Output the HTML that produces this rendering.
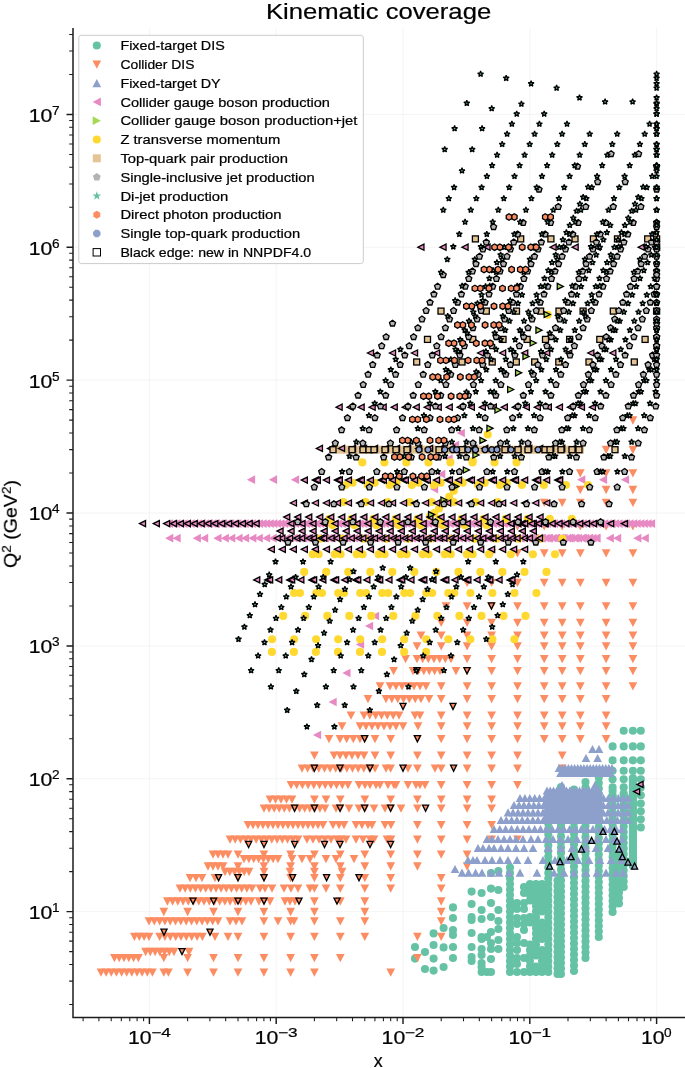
<!DOCTYPE html>
<html><head><meta charset="utf-8"><title>Kinematic coverage</title>
<style>html,body{margin:0;padding:0;background:#fff}svg{display:block;font-family:"Liberation Sans",sans-serif}text{stroke:#000;stroke-width:.22px}</style></head><body>
<svg width="685" height="1068" viewBox="0 0 685 1068">
<rect width="685" height="1068" fill="#fff"/>
<defs><g id="c"><circle r="4.05"/></g><g id="v"><polygon points="-4.35,-3.75 4.35,-3.75 0,4.55"/></g><g id="u"><polygon points="-4.35,4.1 4.35,4.1 0,-4.1"/></g><g id="l"><polygon points="4.1,-4.35 4.1,4.35 -4.1,0"/></g><g id="r"><polygon points="-4.1,-4.35 -4.1,4.35 4.1,0"/></g><g id="s"><rect x="-4" y="-4" width="8" height="8"/></g><g id="p"><polygon points="0.00,-4.10 3.90,-1.27 2.41,3.32 -2.41,3.32 -3.90,-1.27"/></g><g id="h"><polygon points="0.00,-4.00 3.46,-2.00 3.46,2.00 0.00,4.00 -3.46,2.00 -3.46,-2.00"/></g><g id="o"><polygon points="1.53,-3.70 3.70,-1.53 3.70,1.53 1.53,3.70 -1.53,3.70 -3.70,1.53 -3.70,-1.53 -1.53,-3.70"/></g><g id="t"><polygon points="0.00,-2.90 0.68,-0.93 2.76,-0.90 1.09,0.36 1.70,2.35 0.00,1.15 -1.70,2.35 -1.09,0.36 -2.76,-0.90 -0.68,-0.93"/></g><g id="ce"><circle r="3.3" stroke="#000" stroke-width="1.3" stroke-linejoin="miter"/></g><g id="ve"><polygon points="-3.05,-3.05 3.05,-3.05 0,3.05" stroke="#000" stroke-width="1.3" stroke-linejoin="miter"/></g><g id="ue"><polygon points="-3.05,3.05 3.05,3.05 0,-3.05" stroke="#000" stroke-width="1.3" stroke-linejoin="miter"/></g><g id="le"><polygon points="3.05,-3.05 3.05,3.05 -3.05,0" stroke="#000" stroke-width="1.3" stroke-linejoin="miter"/></g><g id="re"><polygon points="-3.05,-3.05 -3.05,3.05 3.05,0" stroke="#000" stroke-width="1.3" stroke-linejoin="miter"/></g><g id="se"><rect x="-3" y="-3" width="6" height="6" stroke="#000" stroke-width="1.3" stroke-linejoin="miter"/></g><g id="pe"><polygon points="0.00,-3.20 3.04,-0.99 1.88,2.59 -1.88,2.59 -3.04,-0.99" stroke="#000" stroke-width="1.3" stroke-linejoin="miter"/></g><g id="he"><polygon points="0.00,-3.20 2.77,-1.60 2.77,1.60 0.00,3.20 -2.77,1.60 -2.77,-1.60" stroke="#000" stroke-width="1.3" stroke-linejoin="miter"/></g><g id="oe"><polygon points="1.19,-2.86 2.86,-1.19 2.86,1.19 1.19,2.86 -1.19,2.86 -2.86,1.19 -2.86,-1.19 -1.19,-2.86" stroke="#000" stroke-width="1.3" stroke-linejoin="miter"/></g><g id="te"><polygon points="0.00,-3.05 0.69,-0.95 2.90,-0.94 1.11,0.36 1.79,2.47 0.00,1.17 -1.79,2.47 -1.11,0.36 -2.90,-0.94 -0.69,-0.95" stroke="#000" stroke-width="1.3" stroke-linejoin="bevel"/></g></defs>
<path d="M149.4 28V1017.5M276.2 28V1017.5M403.0 28V1017.5M529.8 28V1017.5M656.6 28V1017.5M73 911.6H685M73 778.7H685M73 645.9H685M73 513.0H685M73 380.1H685M73 247.2H685M73 114.4H685" stroke="#f1f1f1" stroke-width="0.8" fill="none"/>
<g fill="#66c2a5"><use href="#c" x="415.0" y="947.0"/><use href="#c" x="415.0" y="958.6"/><use href="#c" x="425.0" y="952.0"/><use href="#c" x="425.0" y="969.0"/><use href="#c" x="433.6" y="933.4"/><use href="#c" x="433.6" y="945.0"/><use href="#c" x="433.6" y="958.6"/><use href="#c" x="433.6" y="970.6"/><use href="#c" x="443.6" y="928.0"/><use href="#c" x="443.6" y="947.4"/><use href="#c" x="443.6" y="967.0"/><use href="#c" x="453.0" y="907.4"/><use href="#c" x="453.0" y="918.0"/><use href="#c" x="453.0" y="930.0"/><use href="#c" x="453.0" y="935.0"/><use href="#c" x="453.0" y="947.0"/><use href="#c" x="453.0" y="958.0"/><use href="#c" x="471.6" y="891.6"/><use href="#c" x="471.6" y="904.0"/><use href="#c" x="471.6" y="917.0"/><use href="#c" x="471.6" y="920.0"/><use href="#c" x="471.6" y="933.0"/><use href="#c" x="471.6" y="947.0"/><use href="#c" x="471.6" y="957.0"/><use href="#c" x="471.6" y="961.0"/><use href="#c" x="481.6" y="893.0"/><use href="#c" x="481.6" y="910.0"/><use href="#c" x="481.6" y="919.0"/><use href="#c" x="481.6" y="937.0"/><use href="#c" x="481.6" y="939.0"/><use href="#c" x="481.6" y="949.0"/><use href="#c" x="481.6" y="955.0"/><use href="#c" x="481.6" y="963.0"/><use href="#c" x="481.6" y="967.0"/><use href="#c" x="481.6" y="972.0"/><use href="#c" x="487.0" y="937.0"/><use href="#c" x="487.0" y="972.0"/><use href="#c" x="491.0" y="873.0"/><use href="#c" x="491.0" y="888.6"/><use href="#c" x="491.0" y="903.0"/><use href="#c" x="491.0" y="917.0"/><use href="#c" x="491.0" y="932.0"/><use href="#c" x="491.0" y="943.0"/><use href="#c" x="491.0" y="949.0"/><use href="#c" x="491.0" y="959.0"/><use href="#c" x="491.0" y="972.0"/><use href="#c" x="498.4" y="871.0"/><use href="#c" x="498.4" y="890.0"/><use href="#c" x="498.4" y="910.0"/><use href="#c" x="498.4" y="921.0"/><use href="#c" x="498.4" y="929.0"/><use href="#c" x="498.4" y="940.0"/><use href="#c" x="498.4" y="949.0"/><use href="#c" x="517.0" y="903.0"/><use href="#c" x="517.0" y="909.0"/><use href="#c" x="517.0" y="918.0"/><use href="#c" x="517.0" y="924.0"/><use href="#c" x="517.0" y="937.0"/><use href="#c" x="517.0" y="943.0"/><use href="#c" x="517.0" y="950.0"/><use href="#c" x="517.0" y="958.0"/><use href="#c" x="517.0" y="964.0"/><use href="#c" x="517.0" y="972.0"/><use href="#c" x="524.0" y="887.0"/><use href="#c" x="524.0" y="893.0"/><use href="#c" x="524.0" y="903.0"/><use href="#c" x="524.0" y="909.0"/><use href="#c" x="524.0" y="918.0"/><use href="#c" x="524.0" y="924.0"/><use href="#c" x="524.0" y="930.0"/><use href="#c" x="524.0" y="943.0"/><use href="#c" x="524.0" y="958.0"/><use href="#c" x="524.0" y="972.0"/><use href="#c" x="510.0" y="972.0"/><use href="#c" x="510.0" y="966.5"/><use href="#c" x="510.0" y="961.0"/><use href="#c" x="510.0" y="955.5"/><use href="#c" x="510.0" y="950.0"/><use href="#c" x="510.0" y="944.5"/><use href="#c" x="510.0" y="939.0"/><use href="#c" x="510.0" y="933.5"/><use href="#c" x="510.0" y="928.0"/><use href="#c" x="510.0" y="922.5"/><use href="#c" x="510.0" y="917.0"/><use href="#c" x="510.0" y="911.5"/><use href="#c" x="510.0" y="906.0"/><use href="#c" x="510.0" y="900.5"/><use href="#c" x="510.0" y="895.0"/><use href="#c" x="510.0" y="889.5"/><use href="#c" x="510.0" y="884.0"/><use href="#c" x="510.0" y="878.5"/><use href="#c" x="510.0" y="873.0"/><use href="#c" x="510.0" y="867.5"/><use href="#c" x="530.0" y="972.0"/><use href="#c" x="530.0" y="966.5"/><use href="#c" x="530.0" y="961.0"/><use href="#c" x="530.0" y="955.5"/><use href="#c" x="530.0" y="950.0"/><use href="#c" x="530.0" y="944.5"/><use href="#c" x="530.0" y="922.5"/><use href="#c" x="530.0" y="917.0"/><use href="#c" x="530.0" y="900.5"/><use href="#c" x="530.0" y="895.0"/><use href="#c" x="530.0" y="889.5"/><use href="#c" x="530.0" y="884.0"/><use href="#c" x="536.0" y="972.0"/><use href="#c" x="536.0" y="966.5"/><use href="#c" x="536.0" y="955.5"/><use href="#c" x="536.0" y="950.0"/><use href="#c" x="536.0" y="944.5"/><use href="#c" x="536.0" y="939.0"/><use href="#c" x="536.0" y="933.5"/><use href="#c" x="536.0" y="928.0"/><use href="#c" x="536.0" y="922.5"/><use href="#c" x="536.0" y="917.0"/><use href="#c" x="536.0" y="911.5"/><use href="#c" x="536.0" y="906.0"/><use href="#c" x="536.0" y="900.5"/><use href="#c" x="536.0" y="895.0"/><use href="#c" x="536.0" y="889.5"/><use href="#c" x="536.0" y="884.0"/><use href="#c" x="542.0" y="972.0"/><use href="#c" x="542.0" y="966.5"/><use href="#c" x="542.0" y="961.0"/><use href="#c" x="542.0" y="955.5"/><use href="#c" x="542.0" y="950.0"/><use href="#c" x="542.0" y="939.0"/><use href="#c" x="542.0" y="933.5"/><use href="#c" x="542.0" y="928.0"/><use href="#c" x="542.0" y="922.5"/><use href="#c" x="542.0" y="911.5"/><use href="#c" x="542.0" y="906.0"/><use href="#c" x="542.0" y="900.5"/><use href="#c" x="542.0" y="895.0"/><use href="#c" x="542.0" y="889.5"/><use href="#c" x="542.0" y="884.0"/><use href="#c" x="548.3" y="972.0"/><use href="#c" x="548.3" y="966.5"/><use href="#c" x="548.3" y="961.0"/><use href="#c" x="548.3" y="955.5"/><use href="#c" x="548.3" y="950.0"/><use href="#c" x="548.3" y="944.5"/><use href="#c" x="548.3" y="939.0"/><use href="#c" x="548.3" y="933.5"/><use href="#c" x="548.3" y="928.0"/><use href="#c" x="548.3" y="922.5"/><use href="#c" x="548.3" y="917.0"/><use href="#c" x="548.3" y="911.5"/><use href="#c" x="548.3" y="906.0"/><use href="#c" x="548.3" y="900.5"/><use href="#c" x="548.3" y="895.0"/><use href="#c" x="548.3" y="889.5"/><use href="#c" x="548.3" y="884.0"/><use href="#c" x="548.3" y="878.5"/><use href="#c" x="548.3" y="873.0"/><use href="#c" x="548.3" y="867.5"/><use href="#c" x="548.3" y="862.0"/><use href="#c" x="548.3" y="856.5"/><use href="#c" x="548.3" y="851.0"/><use href="#c" x="548.3" y="845.5"/><use href="#c" x="548.3" y="840.0"/><use href="#c" x="548.3" y="834.5"/><use href="#c" x="548.3" y="829.0"/><use href="#c" x="548.3" y="823.5"/><use href="#c" x="548.3" y="818.0"/><use href="#c" x="548.3" y="812.5"/><use href="#c" x="548.3" y="807.0"/><use href="#c" x="557.5" y="974.0"/><use href="#c" x="557.5" y="968.5"/><use href="#c" x="557.5" y="963.0"/><use href="#c" x="557.5" y="957.5"/><use href="#c" x="557.5" y="952.0"/><use href="#c" x="557.5" y="946.5"/><use href="#c" x="557.5" y="941.0"/><use href="#c" x="557.5" y="935.5"/><use href="#c" x="557.5" y="930.0"/><use href="#c" x="557.5" y="924.5"/><use href="#c" x="557.5" y="919.0"/><use href="#c" x="557.5" y="913.5"/><use href="#c" x="557.5" y="908.0"/><use href="#c" x="557.5" y="902.5"/><use href="#c" x="557.5" y="897.0"/><use href="#c" x="557.5" y="891.5"/><use href="#c" x="557.5" y="886.0"/><use href="#c" x="557.5" y="880.5"/><use href="#c" x="561.0" y="974.0"/><use href="#c" x="561.0" y="968.5"/><use href="#c" x="561.0" y="963.0"/><use href="#c" x="561.0" y="957.5"/><use href="#c" x="561.0" y="952.0"/><use href="#c" x="561.0" y="946.5"/><use href="#c" x="561.0" y="941.0"/><use href="#c" x="561.0" y="935.5"/><use href="#c" x="561.0" y="930.0"/><use href="#c" x="561.0" y="924.5"/><use href="#c" x="561.0" y="919.0"/><use href="#c" x="561.0" y="913.5"/><use href="#c" x="561.0" y="908.0"/><use href="#c" x="561.0" y="902.5"/><use href="#c" x="561.0" y="897.0"/><use href="#c" x="561.0" y="891.5"/><use href="#c" x="561.0" y="886.0"/><use href="#c" x="561.0" y="880.5"/><use href="#c" x="561.0" y="875.0"/><use href="#c" x="561.0" y="869.5"/><use href="#c" x="561.0" y="864.0"/><use href="#c" x="561.0" y="858.5"/><use href="#c" x="561.0" y="853.0"/><use href="#c" x="561.0" y="847.5"/><use href="#c" x="561.0" y="842.0"/><use href="#c" x="561.0" y="836.5"/><use href="#c" x="561.0" y="831.0"/><use href="#c" x="561.0" y="825.5"/><use href="#c" x="561.0" y="820.0"/><use href="#c" x="561.0" y="814.5"/><use href="#c" x="561.0" y="809.0"/><use href="#c" x="561.0" y="803.5"/><use href="#c" x="561.0" y="798.0"/><use href="#c" x="561.0" y="792.5"/><use href="#c" x="561.0" y="787.0"/><use href="#c" x="574.0" y="971.0"/><use href="#c" x="574.0" y="965.5"/><use href="#c" x="574.0" y="960.0"/><use href="#c" x="574.0" y="954.5"/><use href="#c" x="574.0" y="949.0"/><use href="#c" x="574.0" y="943.5"/><use href="#c" x="574.0" y="938.0"/><use href="#c" x="574.0" y="932.5"/><use href="#c" x="574.0" y="927.0"/><use href="#c" x="574.0" y="921.5"/><use href="#c" x="574.0" y="916.0"/><use href="#c" x="574.0" y="910.5"/><use href="#c" x="574.0" y="905.0"/><use href="#c" x="574.0" y="899.5"/><use href="#c" x="574.0" y="894.0"/><use href="#c" x="574.0" y="888.5"/><use href="#c" x="574.0" y="883.0"/><use href="#c" x="574.0" y="877.5"/><use href="#c" x="574.0" y="872.0"/><use href="#c" x="574.0" y="866.5"/><use href="#c" x="574.0" y="861.0"/><use href="#c" x="574.0" y="855.5"/><use href="#c" x="574.0" y="850.0"/><use href="#c" x="574.0" y="844.5"/><use href="#c" x="574.0" y="839.0"/><use href="#c" x="574.0" y="833.5"/><use href="#c" x="574.0" y="828.0"/><use href="#c" x="574.0" y="822.5"/><use href="#c" x="574.0" y="817.0"/><use href="#c" x="574.0" y="811.5"/><use href="#c" x="574.0" y="806.0"/><use href="#c" x="574.0" y="800.5"/><use href="#c" x="574.0" y="795.0"/><use href="#c" x="574.0" y="789.5"/><use href="#c" x="585.5" y="958.0"/><use href="#c" x="585.5" y="952.5"/><use href="#c" x="585.5" y="947.0"/><use href="#c" x="585.5" y="941.5"/><use href="#c" x="585.5" y="936.0"/><use href="#c" x="585.5" y="930.5"/><use href="#c" x="585.5" y="925.0"/><use href="#c" x="585.5" y="919.5"/><use href="#c" x="585.5" y="914.0"/><use href="#c" x="585.5" y="908.5"/><use href="#c" x="585.5" y="903.0"/><use href="#c" x="585.5" y="897.5"/><use href="#c" x="585.5" y="892.0"/><use href="#c" x="585.5" y="886.5"/><use href="#c" x="585.5" y="881.0"/><use href="#c" x="585.5" y="875.5"/><use href="#c" x="585.5" y="870.0"/><use href="#c" x="585.5" y="864.5"/><use href="#c" x="585.5" y="859.0"/><use href="#c" x="585.5" y="853.5"/><use href="#c" x="585.5" y="848.0"/><use href="#c" x="585.5" y="842.5"/><use href="#c" x="585.5" y="837.0"/><use href="#c" x="585.5" y="831.5"/><use href="#c" x="585.5" y="826.0"/><use href="#c" x="585.5" y="820.5"/><use href="#c" x="585.5" y="815.0"/><use href="#c" x="585.5" y="809.5"/><use href="#c" x="585.5" y="804.0"/><use href="#c" x="585.5" y="798.5"/><use href="#c" x="585.5" y="793.0"/><use href="#c" x="585.5" y="787.5"/><use href="#c" x="585.5" y="782.0"/><use href="#c" x="598.8" y="937.0"/><use href="#c" x="598.8" y="931.5"/><use href="#c" x="598.8" y="926.0"/><use href="#c" x="598.8" y="920.5"/><use href="#c" x="598.8" y="915.0"/><use href="#c" x="598.8" y="909.5"/><use href="#c" x="598.8" y="904.0"/><use href="#c" x="598.8" y="898.5"/><use href="#c" x="598.8" y="893.0"/><use href="#c" x="598.8" y="887.5"/><use href="#c" x="598.8" y="882.0"/><use href="#c" x="598.8" y="876.5"/><use href="#c" x="598.8" y="871.0"/><use href="#c" x="598.8" y="865.5"/><use href="#c" x="598.8" y="860.0"/><use href="#c" x="598.8" y="854.5"/><use href="#c" x="598.8" y="849.0"/><use href="#c" x="598.8" y="843.5"/><use href="#c" x="598.8" y="838.0"/><use href="#c" x="598.8" y="832.5"/><use href="#c" x="598.8" y="827.0"/><use href="#c" x="598.8" y="821.5"/><use href="#c" x="598.8" y="816.0"/><use href="#c" x="598.8" y="810.5"/><use href="#c" x="598.8" y="805.0"/><use href="#c" x="598.8" y="799.5"/><use href="#c" x="598.8" y="794.0"/><use href="#c" x="598.8" y="788.5"/><use href="#c" x="598.8" y="783.0"/><use href="#c" x="598.8" y="777.5"/><use href="#c" x="598.8" y="772.0"/><use href="#c" x="612.6" y="912.0"/><use href="#c" x="612.6" y="906.5"/><use href="#c" x="612.6" y="901.0"/><use href="#c" x="612.6" y="895.5"/><use href="#c" x="612.6" y="890.0"/><use href="#c" x="612.6" y="884.5"/><use href="#c" x="612.6" y="879.0"/><use href="#c" x="612.6" y="873.5"/><use href="#c" x="612.6" y="868.0"/><use href="#c" x="612.6" y="862.5"/><use href="#c" x="612.6" y="857.0"/><use href="#c" x="612.6" y="851.5"/><use href="#c" x="612.6" y="846.0"/><use href="#c" x="612.6" y="840.5"/><use href="#c" x="612.6" y="835.0"/><use href="#c" x="612.6" y="829.5"/><use href="#c" x="612.6" y="824.0"/><use href="#c" x="612.6" y="818.5"/><use href="#c" x="612.6" y="813.0"/><use href="#c" x="612.6" y="807.5"/><use href="#c" x="612.6" y="802.0"/><use href="#c" x="612.6" y="796.5"/><use href="#c" x="612.6" y="791.0"/><use href="#c" x="619.0" y="903.5"/><use href="#c" x="619.0" y="898.0"/><use href="#c" x="619.0" y="892.5"/><use href="#c" x="619.0" y="887.0"/><use href="#c" x="619.0" y="881.5"/><use href="#c" x="619.0" y="876.0"/><use href="#c" x="619.0" y="870.5"/><use href="#c" x="619.0" y="865.0"/><use href="#c" x="619.0" y="859.5"/><use href="#c" x="619.0" y="854.0"/><use href="#c" x="623.7" y="887.0"/><use href="#c" x="623.7" y="881.5"/><use href="#c" x="623.7" y="876.0"/><use href="#c" x="623.7" y="870.5"/><use href="#c" x="623.7" y="865.0"/><use href="#c" x="623.7" y="859.5"/><use href="#c" x="623.7" y="854.0"/><use href="#c" x="623.7" y="848.5"/><use href="#c" x="623.7" y="843.0"/><use href="#c" x="623.7" y="837.5"/><use href="#c" x="623.7" y="832.0"/><use href="#c" x="623.7" y="826.5"/><use href="#c" x="623.7" y="821.0"/><use href="#c" x="623.7" y="815.5"/><use href="#c" x="623.7" y="810.0"/><use href="#c" x="623.7" y="804.5"/><use href="#c" x="623.7" y="799.0"/><use href="#c" x="623.7" y="793.5"/><use href="#c" x="632.9" y="866.0"/><use href="#c" x="632.9" y="863.8"/><use href="#c" x="632.9" y="861.6"/><use href="#c" x="632.9" y="859.4"/><use href="#c" x="632.9" y="857.2"/><use href="#c" x="632.9" y="855.0"/><use href="#c" x="632.9" y="852.8"/><use href="#c" x="632.9" y="850.6"/><use href="#c" x="632.9" y="848.4"/><use href="#c" x="632.9" y="846.2"/><use href="#c" x="632.9" y="844.0"/><use href="#c" x="632.9" y="841.8"/><use href="#c" x="632.9" y="839.6"/><use href="#c" x="632.9" y="837.4"/><use href="#c" x="632.9" y="835.2"/><use href="#c" x="632.9" y="833.0"/><use href="#c" x="632.9" y="830.8"/><use href="#c" x="632.9" y="828.6"/><use href="#c" x="632.9" y="826.4"/><use href="#c" x="632.9" y="824.2"/><use href="#c" x="632.9" y="822.0"/><use href="#c" x="632.9" y="819.8"/><use href="#c" x="632.9" y="817.6"/><use href="#c" x="632.9" y="815.4"/><use href="#c" x="632.9" y="813.2"/><use href="#c" x="632.9" y="811.0"/><use href="#c" x="632.9" y="808.8"/><use href="#c" x="632.9" y="806.6"/><use href="#c" x="632.9" y="804.4"/><use href="#c" x="632.9" y="802.2"/><use href="#c" x="632.9" y="800.0"/><use href="#c" x="632.9" y="797.8"/><use href="#c" x="632.9" y="795.6"/><use href="#c" x="632.9" y="793.4"/><use href="#c" x="632.9" y="791.2"/><use href="#c" x="632.9" y="789.0"/><use href="#c" x="632.9" y="786.8"/><use href="#c" x="632.9" y="784.6"/><use href="#c" x="632.9" y="782.4"/><use href="#c" x="632.9" y="780.2"/><use href="#c" x="632.9" y="778.0"/><use href="#c" x="612.6" y="746.4"/><use href="#c" x="612.6" y="760.4"/><use href="#c" x="612.6" y="770.7"/><use href="#c" x="612.6" y="779.3"/><use href="#c" x="612.6" y="787.4"/><use href="#c" x="612.6" y="795.3"/><use href="#c" x="623.7" y="730.7"/><use href="#c" x="623.7" y="746.4"/><use href="#c" x="623.7" y="760.4"/><use href="#c" x="623.7" y="770.7"/><use href="#c" x="623.7" y="779.3"/><use href="#c" x="623.7" y="787.4"/><use href="#c" x="623.7" y="795.3"/><use href="#c" x="632.9" y="730.7"/><use href="#c" x="632.9" y="746.4"/><use href="#c" x="632.9" y="760.4"/><use href="#c" x="632.9" y="770.7"/><use href="#c" x="632.9" y="779.3"/><use href="#c" x="640.8" y="730.7"/><use href="#c" x="640.8" y="746.4"/><use href="#c" x="640.8" y="760.4"/><use href="#c" x="640.8" y="770.7"/><use href="#c" x="640.8" y="779.3"/><use href="#c" x="640.8" y="787.4"/><use href="#c" x="640.8" y="795.3"/><use href="#c" x="640.8" y="803.6"/><use href="#c" x="640.8" y="811.2"/><use href="#c" x="640.8" y="819.3"/><use href="#c" x="640.8" y="827.4"/></g>
<g fill="#fc8d62"><use href="#v" x="101.0" y="972.2"/><use href="#v" x="106.1" y="972.2"/><use href="#v" x="111.3" y="972.2"/><use href="#v" x="116.4" y="972.2"/><use href="#v" x="121.6" y="972.2"/><use href="#v" x="126.7" y="972.2"/><use href="#v" x="131.8" y="972.2"/><use href="#v" x="137.0" y="972.2"/><use href="#v" x="142.1" y="972.2"/><use href="#v" x="147.3" y="972.2"/><use href="#v" x="152.4" y="972.2"/><use href="#v" x="163.8" y="972.2"/><use href="#v" x="168.4" y="972.2"/><use href="#v" x="187.6" y="972.2"/><use href="#v" x="213.5" y="972.2"/><use href="#v" x="238.0" y="972.2"/><use href="#v" x="263.9" y="972.2"/><use href="#v" x="290.6" y="972.2"/><use href="#v" x="314.4" y="972.2"/><use href="#v" x="390.7" y="972.2"/><use href="#v" x="114.4" y="957.7"/><use href="#v" x="119.2" y="957.7"/><use href="#v" x="124.0" y="957.7"/><use href="#v" x="128.8" y="957.7"/><use href="#v" x="133.6" y="957.7"/><use href="#v" x="138.4" y="957.7"/><use href="#v" x="163.8" y="957.7"/><use href="#v" x="187.6" y="957.7"/><use href="#v" x="213.5" y="957.7"/><use href="#v" x="238.0" y="957.7"/><use href="#v" x="263.9" y="957.7"/><use href="#v" x="290.6" y="957.7"/><use href="#v" x="314.4" y="957.7"/><use href="#v" x="340.3" y="957.7"/><use href="#v" x="417.4" y="957.7"/><use href="#v" x="145.6" y="951.6"/><use href="#v" x="150.3" y="951.6"/><use href="#v" x="155.1" y="951.6"/><use href="#v" x="159.8" y="951.6"/><use href="#v" x="164.5" y="951.6"/><use href="#v" x="169.3" y="951.6"/><use href="#v" x="174.0" y="951.6"/><use href="#v" x="189.0" y="951.6"/><use href="#v" x="134.4" y="936.5"/><use href="#v" x="139.3" y="936.5"/><use href="#v" x="144.1" y="936.5"/><use href="#v" x="149.0" y="936.5"/><use href="#v" x="159.6" y="936.5"/><use href="#v" x="164.9" y="936.5"/><use href="#v" x="170.3" y="936.5"/><use href="#v" x="175.7" y="936.5"/><use href="#v" x="181.0" y="936.5"/><use href="#v" x="186.3" y="936.5"/><use href="#v" x="191.7" y="936.5"/><use href="#v" x="197.1" y="936.5"/><use href="#v" x="202.4" y="936.5"/><use href="#v" x="215.0" y="936.5"/><use href="#v" x="228.0" y="936.5"/><use href="#v" x="238.0" y="936.5"/><use href="#v" x="263.9" y="936.5"/><use href="#v" x="290.6" y="936.5"/><use href="#v" x="314.4" y="936.5"/><use href="#v" x="340.3" y="936.5"/><use href="#v" x="364.8" y="936.5"/><use href="#v" x="417.4" y="936.5"/><use href="#v" x="441.2" y="936.5"/><use href="#v" x="149.0" y="921.0"/><use href="#v" x="154.3" y="921.0"/><use href="#v" x="159.6" y="921.0"/><use href="#v" x="164.9" y="921.0"/><use href="#v" x="170.2" y="921.0"/><use href="#v" x="175.5" y="921.0"/><use href="#v" x="180.8" y="921.0"/><use href="#v" x="186.2" y="921.0"/><use href="#v" x="191.5" y="921.0"/><use href="#v" x="196.8" y="921.0"/><use href="#v" x="202.1" y="921.0"/><use href="#v" x="207.4" y="921.0"/><use href="#v" x="212.7" y="921.0"/><use href="#v" x="218.0" y="921.0"/><use href="#v" x="230.0" y="921.0"/><use href="#v" x="236.0" y="921.0"/><use href="#v" x="242.0" y="921.0"/><use href="#v" x="263.9" y="921.0"/><use href="#v" x="278.0" y="921.0"/><use href="#v" x="290.6" y="921.0"/><use href="#v" x="294.0" y="921.0"/><use href="#v" x="314.4" y="921.0"/><use href="#v" x="340.3" y="921.0"/><use href="#v" x="364.8" y="921.0"/><use href="#v" x="441.2" y="921.0"/><use href="#v" x="163.8" y="911.6"/><use href="#v" x="187.6" y="911.6"/><use href="#v" x="213.5" y="911.6"/><use href="#v" x="238.0" y="911.6"/><use href="#v" x="263.9" y="911.6"/><use href="#v" x="290.6" y="911.6"/><use href="#v" x="314.4" y="911.6"/><use href="#v" x="364.8" y="911.6"/><use href="#v" x="441.2" y="911.6"/><use href="#v" x="167.4" y="901.1"/><use href="#v" x="172.6" y="901.1"/><use href="#v" x="177.8" y="901.1"/><use href="#v" x="183.1" y="901.1"/><use href="#v" x="188.3" y="901.1"/><use href="#v" x="193.5" y="901.1"/><use href="#v" x="198.8" y="901.1"/><use href="#v" x="204.0" y="901.1"/><use href="#v" x="209.2" y="901.1"/><use href="#v" x="214.4" y="901.1"/><use href="#v" x="219.7" y="901.1"/><use href="#v" x="224.9" y="901.1"/><use href="#v" x="230.1" y="901.1"/><use href="#v" x="235.3" y="901.1"/><use href="#v" x="240.6" y="901.1"/><use href="#v" x="245.8" y="901.1"/><use href="#v" x="251.0" y="901.1"/><use href="#v" x="259.0" y="901.1"/><use href="#v" x="264.0" y="901.1"/><use href="#v" x="270.0" y="901.1"/><use href="#v" x="285.0" y="901.1"/><use href="#v" x="290.0" y="901.1"/><use href="#v" x="295.0" y="901.1"/><use href="#v" x="314.4" y="901.1"/><use href="#v" x="340.3" y="901.1"/><use href="#v" x="364.8" y="901.1"/><use href="#v" x="441.2" y="901.1"/><use href="#v" x="180.0" y="888.2"/><use href="#v" x="185.1" y="888.2"/><use href="#v" x="190.3" y="888.2"/><use href="#v" x="195.4" y="888.2"/><use href="#v" x="200.6" y="888.2"/><use href="#v" x="205.7" y="888.2"/><use href="#v" x="210.9" y="888.2"/><use href="#v" x="216.0" y="888.2"/><use href="#v" x="221.1" y="888.2"/><use href="#v" x="226.3" y="888.2"/><use href="#v" x="231.4" y="888.2"/><use href="#v" x="236.6" y="888.2"/><use href="#v" x="241.7" y="888.2"/><use href="#v" x="246.9" y="888.2"/><use href="#v" x="252.0" y="888.2"/><use href="#v" x="260.0" y="888.2"/><use href="#v" x="265.0" y="888.2"/><use href="#v" x="272.0" y="888.2"/><use href="#v" x="284.0" y="888.2"/><use href="#v" x="291.0" y="888.2"/><use href="#v" x="298.0" y="888.2"/><use href="#v" x="310.0" y="888.2"/><use href="#v" x="314.4" y="888.2"/><use href="#v" x="326.0" y="888.2"/><use href="#v" x="340.3" y="888.2"/><use href="#v" x="364.8" y="888.2"/><use href="#v" x="390.7" y="888.2"/><use href="#v" x="441.2" y="888.2"/><use href="#v" x="190.0" y="877.7"/><use href="#v" x="196.0" y="877.7"/><use href="#v" x="202.0" y="877.7"/><use href="#v" x="215.0" y="877.7"/><use href="#v" x="238.0" y="877.7"/><use href="#v" x="263.9" y="877.7"/><use href="#v" x="290.6" y="877.7"/><use href="#v" x="314.4" y="877.7"/><use href="#v" x="340.3" y="877.7"/><use href="#v" x="364.8" y="877.7"/><use href="#v" x="390.7" y="877.7"/><use href="#v" x="441.2" y="877.7"/><use href="#v" x="225.0" y="871.6"/><use href="#v" x="229.8" y="871.6"/><use href="#v" x="234.6" y="871.6"/><use href="#v" x="239.4" y="871.6"/><use href="#v" x="244.2" y="871.6"/><use href="#v" x="249.0" y="871.6"/><use href="#v" x="264.0" y="871.6"/><use href="#v" x="290.0" y="871.6"/><use href="#v" x="314.4" y="871.6"/><use href="#v" x="342.0" y="871.6"/><use href="#v" x="208.0" y="866.1"/><use href="#v" x="213.0" y="866.1"/><use href="#v" x="218.0" y="866.1"/><use href="#v" x="223.0" y="866.1"/><use href="#v" x="238.0" y="866.1"/><use href="#v" x="263.9" y="866.1"/><use href="#v" x="290.6" y="866.1"/><use href="#v" x="314.4" y="866.1"/><use href="#v" x="340.3" y="866.1"/><use href="#v" x="364.8" y="866.1"/><use href="#v" x="390.7" y="866.1"/><use href="#v" x="417.4" y="866.1"/><use href="#v" x="467.1" y="866.1"/><use href="#v" x="244.0" y="858.7"/><use href="#v" x="248.9" y="858.7"/><use href="#v" x="253.7" y="858.7"/><use href="#v" x="258.6" y="858.7"/><use href="#v" x="263.4" y="858.7"/><use href="#v" x="268.3" y="858.7"/><use href="#v" x="273.1" y="858.7"/><use href="#v" x="278.0" y="858.7"/><use href="#v" x="292.0" y="858.7"/><use href="#v" x="302.0" y="858.7"/><use href="#v" x="310.0" y="858.7"/><use href="#v" x="326.0" y="858.7"/><use href="#v" x="336.0" y="858.7"/><use href="#v" x="354.0" y="858.7"/><use href="#v" x="213.0" y="854.3"/><use href="#v" x="218.0" y="854.3"/><use href="#v" x="223.0" y="854.3"/><use href="#v" x="228.0" y="854.3"/><use href="#v" x="238.0" y="854.3"/><use href="#v" x="263.9" y="854.3"/><use href="#v" x="290.6" y="854.3"/><use href="#v" x="314.4" y="854.3"/><use href="#v" x="340.3" y="854.3"/><use href="#v" x="364.8" y="854.3"/><use href="#v" x="390.7" y="854.3"/><use href="#v" x="417.4" y="854.3"/><use href="#v" x="441.2" y="854.3"/><use href="#v" x="467.1" y="854.3"/><use href="#v" x="230.0" y="839.3"/><use href="#v" x="235.2" y="839.3"/><use href="#v" x="240.5" y="839.3"/><use href="#v" x="245.7" y="839.3"/><use href="#v" x="250.9" y="839.3"/><use href="#v" x="256.2" y="839.3"/><use href="#v" x="261.4" y="839.3"/><use href="#v" x="266.6" y="839.3"/><use href="#v" x="271.8" y="839.3"/><use href="#v" x="277.1" y="839.3"/><use href="#v" x="282.3" y="839.3"/><use href="#v" x="287.5" y="839.3"/><use href="#v" x="292.8" y="839.3"/><use href="#v" x="298.0" y="839.3"/><use href="#v" x="307.0" y="839.3"/><use href="#v" x="313.0" y="839.3"/><use href="#v" x="319.0" y="839.3"/><use href="#v" x="325.0" y="839.3"/><use href="#v" x="331.0" y="839.3"/><use href="#v" x="337.0" y="839.3"/><use href="#v" x="341.0" y="839.3"/><use href="#v" x="346.0" y="839.3"/><use href="#v" x="356.0" y="839.3"/><use href="#v" x="363.0" y="839.3"/><use href="#v" x="370.0" y="839.3"/><use href="#v" x="374.0" y="839.3"/><use href="#v" x="387.0" y="839.3"/><use href="#v" x="391.0" y="839.3"/><use href="#v" x="417.4" y="839.3"/><use href="#v" x="441.2" y="839.3"/><use href="#v" x="467.1" y="839.3"/><use href="#v" x="491.6" y="839.3"/><use href="#v" x="517.5" y="839.3"/><use href="#v" x="248.0" y="824.8"/><use href="#v" x="253.0" y="824.8"/><use href="#v" x="258.0" y="824.8"/><use href="#v" x="263.0" y="824.8"/><use href="#v" x="268.0" y="824.8"/><use href="#v" x="273.0" y="824.8"/><use href="#v" x="278.0" y="824.8"/><use href="#v" x="283.0" y="824.8"/><use href="#v" x="288.0" y="824.8"/><use href="#v" x="293.0" y="824.8"/><use href="#v" x="298.0" y="824.8"/><use href="#v" x="303.0" y="824.8"/><use href="#v" x="308.0" y="824.8"/><use href="#v" x="313.0" y="824.8"/><use href="#v" x="318.0" y="824.8"/><use href="#v" x="323.0" y="824.8"/><use href="#v" x="333.0" y="824.8"/><use href="#v" x="339.0" y="824.8"/><use href="#v" x="344.0" y="824.8"/><use href="#v" x="356.0" y="824.8"/><use href="#v" x="362.0" y="824.8"/><use href="#v" x="368.0" y="824.8"/><use href="#v" x="372.0" y="824.8"/><use href="#v" x="385.0" y="824.8"/><use href="#v" x="391.0" y="824.8"/><use href="#v" x="417.4" y="824.8"/><use href="#v" x="441.2" y="824.8"/><use href="#v" x="467.1" y="824.8"/><use href="#v" x="491.6" y="824.8"/><use href="#v" x="264.0" y="808.2"/><use href="#v" x="269.1" y="808.2"/><use href="#v" x="274.2" y="808.2"/><use href="#v" x="279.2" y="808.2"/><use href="#v" x="284.3" y="808.2"/><use href="#v" x="289.4" y="808.2"/><use href="#v" x="294.5" y="808.2"/><use href="#v" x="299.6" y="808.2"/><use href="#v" x="304.7" y="808.2"/><use href="#v" x="309.8" y="808.2"/><use href="#v" x="314.8" y="808.2"/><use href="#v" x="319.9" y="808.2"/><use href="#v" x="325.0" y="808.2"/><use href="#v" x="336.0" y="808.2"/><use href="#v" x="349.0" y="808.2"/><use href="#v" x="359.0" y="808.2"/><use href="#v" x="374.0" y="808.2"/><use href="#v" x="385.0" y="808.2"/><use href="#v" x="401.0" y="808.2"/><use href="#v" x="314.4" y="808.2"/><use href="#v" x="340.3" y="808.2"/><use href="#v" x="364.8" y="808.2"/><use href="#v" x="390.7" y="808.2"/><use href="#v" x="417.4" y="808.2"/><use href="#v" x="441.2" y="808.2"/><use href="#v" x="467.1" y="808.2"/><use href="#v" x="491.6" y="808.2"/><use href="#v" x="270.0" y="799.3"/><use href="#v" x="275.5" y="799.3"/><use href="#v" x="281.0" y="799.3"/><use href="#v" x="286.5" y="799.3"/><use href="#v" x="292.0" y="799.3"/><use href="#v" x="314.4" y="799.3"/><use href="#v" x="326.0" y="799.3"/><use href="#v" x="340.3" y="799.3"/><use href="#v" x="364.8" y="799.3"/><use href="#v" x="390.7" y="799.3"/><use href="#v" x="417.4" y="799.3"/><use href="#v" x="441.2" y="799.3"/><use href="#v" x="467.1" y="799.3"/><use href="#v" x="491.6" y="799.3"/><use href="#v" x="291.0" y="784.8"/><use href="#v" x="296.7" y="784.8"/><use href="#v" x="302.4" y="784.8"/><use href="#v" x="308.1" y="784.8"/><use href="#v" x="313.8" y="784.8"/><use href="#v" x="319.5" y="784.8"/><use href="#v" x="325.2" y="784.8"/><use href="#v" x="330.9" y="784.8"/><use href="#v" x="336.6" y="784.8"/><use href="#v" x="342.3" y="784.8"/><use href="#v" x="348.0" y="784.8"/><use href="#v" x="359.0" y="784.8"/><use href="#v" x="365.0" y="784.8"/><use href="#v" x="370.0" y="784.8"/><use href="#v" x="376.0" y="784.8"/><use href="#v" x="380.0" y="784.8"/><use href="#v" x="388.0" y="784.8"/><use href="#v" x="394.0" y="784.8"/><use href="#v" x="396.0" y="784.8"/><use href="#v" x="408.0" y="784.8"/><use href="#v" x="416.0" y="784.8"/><use href="#v" x="420.0" y="784.8"/><use href="#v" x="425.0" y="784.8"/><use href="#v" x="441.2" y="784.8"/><use href="#v" x="467.1" y="784.8"/><use href="#v" x="491.6" y="784.8"/><use href="#v" x="517.5" y="784.8"/><use href="#v" x="302.0" y="768.2"/><use href="#v" x="307.6" y="768.2"/><use href="#v" x="313.2" y="768.2"/><use href="#v" x="318.8" y="768.2"/><use href="#v" x="324.5" y="768.2"/><use href="#v" x="330.1" y="768.2"/><use href="#v" x="335.7" y="768.2"/><use href="#v" x="341.3" y="768.2"/><use href="#v" x="346.9" y="768.2"/><use href="#v" x="352.5" y="768.2"/><use href="#v" x="358.2" y="768.2"/><use href="#v" x="363.8" y="768.2"/><use href="#v" x="369.4" y="768.2"/><use href="#v" x="375.0" y="768.2"/><use href="#v" x="386.0" y="768.2"/><use href="#v" x="390.6" y="768.2"/><use href="#v" x="408.0" y="768.2"/><use href="#v" x="417.4" y="768.2"/><use href="#v" x="435.0" y="768.2"/><use href="#v" x="441.2" y="768.2"/><use href="#v" x="467.1" y="768.2"/><use href="#v" x="491.6" y="768.2"/><use href="#v" x="517.5" y="768.2"/><use href="#v" x="562.2" y="768.2"/><use href="#v" x="314.4" y="755.3"/><use href="#v" x="334.0" y="755.3"/><use href="#v" x="340.0" y="755.3"/><use href="#v" x="346.0" y="755.3"/><use href="#v" x="352.0" y="755.3"/><use href="#v" x="358.0" y="755.3"/><use href="#v" x="364.0" y="755.3"/><use href="#v" x="375.0" y="755.3"/><use href="#v" x="390.7" y="755.3"/><use href="#v" x="417.4" y="755.3"/><use href="#v" x="441.2" y="755.3"/><use href="#v" x="467.1" y="755.3"/><use href="#v" x="491.6" y="755.3"/><use href="#v" x="517.5" y="755.3"/><use href="#v" x="562.2" y="755.3"/><use href="#v" x="329.0" y="738.7"/><use href="#v" x="340.0" y="738.7"/><use href="#v" x="346.7" y="738.7"/><use href="#v" x="353.3" y="738.7"/><use href="#v" x="360.0" y="738.7"/><use href="#v" x="375.0" y="738.7"/><use href="#v" x="364.8" y="738.7"/><use href="#v" x="390.7" y="738.7"/><use href="#v" x="417.4" y="738.7"/><use href="#v" x="441.2" y="738.7"/><use href="#v" x="467.1" y="738.7"/><use href="#v" x="491.6" y="738.7"/><use href="#v" x="517.5" y="738.7"/><use href="#v" x="544.2" y="738.7"/><use href="#v" x="562.2" y="738.7"/><use href="#v" x="580.3" y="738.7"/><use href="#v" x="606.1" y="738.7"/><use href="#v" x="342.0" y="725.9"/><use href="#v" x="360.0" y="725.9"/><use href="#v" x="366.0" y="725.9"/><use href="#v" x="372.0" y="725.9"/><use href="#v" x="378.0" y="725.9"/><use href="#v" x="384.0" y="725.9"/><use href="#v" x="390.0" y="725.9"/><use href="#v" x="396.0" y="725.9"/><use href="#v" x="403.0" y="725.9"/><use href="#v" x="418.0" y="725.9"/><use href="#v" x="441.2" y="725.9"/><use href="#v" x="467.1" y="725.9"/><use href="#v" x="491.6" y="725.9"/><use href="#v" x="517.5" y="725.9"/><use href="#v" x="544.2" y="725.9"/><use href="#v" x="562.2" y="725.9"/><use href="#v" x="580.3" y="725.9"/><use href="#v" x="606.1" y="725.9"/><use href="#v" x="351.0" y="715.3"/><use href="#v" x="364.0" y="715.3"/><use href="#v" x="369.8" y="715.3"/><use href="#v" x="375.7" y="715.3"/><use href="#v" x="381.5" y="715.3"/><use href="#v" x="387.3" y="715.3"/><use href="#v" x="393.2" y="715.3"/><use href="#v" x="399.0" y="715.3"/><use href="#v" x="415.0" y="715.3"/><use href="#v" x="420.0" y="715.3"/><use href="#v" x="441.2" y="715.3"/><use href="#v" x="467.1" y="715.3"/><use href="#v" x="491.6" y="715.3"/><use href="#v" x="517.5" y="715.3"/><use href="#v" x="544.2" y="715.3"/><use href="#v" x="562.2" y="715.3"/><use href="#v" x="580.3" y="715.3"/><use href="#v" x="606.1" y="715.3"/><use href="#v" x="368.0" y="698.7"/><use href="#v" x="386.0" y="698.7"/><use href="#v" x="391.8" y="698.7"/><use href="#v" x="397.7" y="698.7"/><use href="#v" x="403.5" y="698.7"/><use href="#v" x="409.3" y="698.7"/><use href="#v" x="415.2" y="698.7"/><use href="#v" x="421.0" y="698.7"/><use href="#v" x="429.0" y="698.7"/><use href="#v" x="441.2" y="698.7"/><use href="#v" x="467.1" y="698.7"/><use href="#v" x="491.6" y="698.7"/><use href="#v" x="517.5" y="698.7"/><use href="#v" x="544.2" y="698.7"/><use href="#v" x="562.2" y="698.7"/><use href="#v" x="580.3" y="698.7"/><use href="#v" x="606.1" y="698.7"/><use href="#v" x="380.0" y="685.9"/><use href="#v" x="390.0" y="685.9"/><use href="#v" x="396.0" y="685.9"/><use href="#v" x="402.0" y="685.9"/><use href="#v" x="408.0" y="685.9"/><use href="#v" x="414.0" y="685.9"/><use href="#v" x="420.0" y="685.9"/><use href="#v" x="426.0" y="685.9"/><use href="#v" x="441.2" y="685.9"/><use href="#v" x="467.1" y="685.9"/><use href="#v" x="491.6" y="685.9"/><use href="#v" x="517.5" y="685.9"/><use href="#v" x="544.2" y="685.9"/><use href="#v" x="562.2" y="685.9"/><use href="#v" x="580.3" y="685.9"/><use href="#v" x="606.1" y="685.9"/><use href="#v" x="632.9" y="685.9"/><use href="#v" x="393.6" y="670.7"/><use href="#v" x="413.0" y="670.7"/><use href="#v" x="418.4" y="670.7"/><use href="#v" x="423.8" y="670.7"/><use href="#v" x="429.2" y="670.7"/><use href="#v" x="434.6" y="670.7"/><use href="#v" x="440.0" y="670.7"/><use href="#v" x="456.0" y="670.7"/><use href="#v" x="467.1" y="670.7"/><use href="#v" x="491.6" y="670.7"/><use href="#v" x="517.5" y="670.7"/><use href="#v" x="544.2" y="670.7"/><use href="#v" x="562.2" y="670.7"/><use href="#v" x="580.3" y="670.7"/><use href="#v" x="606.1" y="670.7"/><use href="#v" x="632.9" y="670.7"/><use href="#v" x="405.6" y="658.7"/><use href="#v" x="417.0" y="658.7"/><use href="#v" x="422.7" y="658.7"/><use href="#v" x="428.3" y="658.7"/><use href="#v" x="434.0" y="658.7"/><use href="#v" x="439.7" y="658.7"/><use href="#v" x="445.3" y="658.7"/><use href="#v" x="451.0" y="658.7"/><use href="#v" x="467.1" y="658.7"/><use href="#v" x="491.6" y="658.7"/><use href="#v" x="517.5" y="658.7"/><use href="#v" x="544.2" y="658.7"/><use href="#v" x="562.2" y="658.7"/><use href="#v" x="580.3" y="658.7"/><use href="#v" x="606.1" y="658.7"/><use href="#v" x="632.9" y="658.7"/><use href="#v" x="417.0" y="645.9"/><use href="#v" x="441.2" y="645.9"/><use href="#v" x="467.1" y="645.9"/><use href="#v" x="491.6" y="645.9"/><use href="#v" x="517.5" y="645.9"/><use href="#v" x="544.2" y="645.9"/><use href="#v" x="562.2" y="645.9"/><use href="#v" x="580.3" y="645.9"/><use href="#v" x="606.1" y="645.9"/><use href="#v" x="632.9" y="645.9"/><use href="#v" x="421.0" y="635.3"/><use href="#v" x="441.2" y="635.3"/><use href="#v" x="467.1" y="635.3"/><use href="#v" x="491.6" y="635.3"/><use href="#v" x="517.5" y="635.3"/><use href="#v" x="544.2" y="635.3"/><use href="#v" x="562.2" y="635.3"/><use href="#v" x="580.3" y="635.3"/><use href="#v" x="606.1" y="635.3"/><use href="#v" x="632.9" y="635.3"/><use href="#v" x="441.2" y="622.5"/><use href="#v" x="467.1" y="622.5"/><use href="#v" x="491.6" y="622.5"/><use href="#v" x="517.5" y="622.5"/><use href="#v" x="544.2" y="622.5"/><use href="#v" x="562.2" y="622.5"/><use href="#v" x="580.3" y="622.5"/><use href="#v" x="606.1" y="622.5"/><use href="#v" x="632.9" y="622.5"/><use href="#v" x="446.0" y="605.9"/><use href="#v" x="467.1" y="605.9"/><use href="#v" x="491.6" y="605.9"/><use href="#v" x="517.5" y="605.9"/><use href="#v" x="544.2" y="605.9"/><use href="#v" x="562.2" y="605.9"/><use href="#v" x="580.3" y="605.9"/><use href="#v" x="606.1" y="605.9"/><use href="#v" x="632.9" y="605.9"/><use href="#v" x="467.1" y="582.5"/><use href="#v" x="491.6" y="582.5"/><use href="#v" x="517.5" y="582.5"/><use href="#v" x="544.2" y="582.5"/><use href="#v" x="562.2" y="582.5"/><use href="#v" x="580.3" y="582.5"/><use href="#v" x="606.1" y="582.5"/><use href="#v" x="632.9" y="582.5"/><use href="#v" x="491.6" y="553.0"/><use href="#v" x="517.5" y="553.0"/><use href="#v" x="544.2" y="553.0"/><use href="#v" x="562.2" y="553.0"/><use href="#v" x="580.3" y="553.0"/><use href="#v" x="606.1" y="553.0"/><use href="#v" x="632.9" y="553.0"/><use href="#v" x="517.5" y="525.9"/><use href="#v" x="544.2" y="525.9"/><use href="#v" x="562.2" y="525.9"/><use href="#v" x="580.3" y="525.9"/><use href="#v" x="606.1" y="525.9"/><use href="#v" x="632.9" y="525.9"/><use href="#v" x="544.2" y="502.5"/><use href="#v" x="562.2" y="502.5"/><use href="#v" x="580.3" y="502.5"/><use href="#v" x="606.1" y="502.5"/><use href="#v" x="632.9" y="502.5"/><use href="#v" x="580.3" y="489.6"/><use href="#v" x="606.1" y="489.6"/><use href="#v" x="632.9" y="489.6"/><use href="#v" x="580.3" y="473.0"/><use href="#v" x="606.1" y="473.0"/><use href="#v" x="632.9" y="473.0"/><use href="#v" x="606.1" y="449.6"/><use href="#v" x="632.9" y="449.6"/><use href="#v" x="632.9" y="420.1"/></g>
<g fill="#8da0cb"><use href="#u" x="455.0" y="869.0"/><use href="#u" x="462.0" y="872.6"/><use href="#u" x="468.6" y="872.6"/><use href="#u" x="475.6" y="872.6"/><use href="#u" x="482.0" y="872.6"/><use href="#u" x="491.0" y="872.6"/><use href="#u" x="499.0" y="872.6"/><use href="#u" x="509.0" y="872.6"/><use href="#u" x="520.0" y="872.6"/><use href="#u" x="537.0" y="872.6"/><use href="#u" x="554.0" y="872.6"/><use href="#u" x="564.0" y="872.6"/><use href="#u" x="574.0" y="872.6"/><use href="#u" x="586.0" y="872.6"/><use href="#u" x="597.0" y="872.6"/><use href="#u" x="606.0" y="872.6"/><use href="#u" x="616.0" y="872.6"/><use href="#u" x="623.0" y="872.6"/><use href="#u" x="468.0" y="860.0"/><use href="#u" x="473.0" y="860.0"/><use href="#u" x="477.0" y="860.0"/><use href="#u" x="485.0" y="860.0"/><use href="#u" x="492.0" y="860.0"/><use href="#u" x="500.0" y="860.0"/><use href="#u" x="508.0" y="860.0"/><use href="#u" x="517.0" y="860.0"/><use href="#u" x="528.0" y="860.0"/><use href="#u" x="543.0" y="860.0"/><use href="#u" x="555.0" y="860.0"/><use href="#u" x="567.0" y="860.0"/><use href="#u" x="578.0" y="860.0"/><use href="#u" x="589.0" y="860.0"/><use href="#u" x="600.0" y="860.0"/><use href="#u" x="611.0" y="860.0"/><use href="#u" x="621.0" y="860.0"/><use href="#u" x="478.0" y="848.0"/><use href="#u" x="483.0" y="848.0"/><use href="#u" x="489.0" y="848.0"/><use href="#u" x="494.0" y="848.0"/><use href="#u" x="501.0" y="848.0"/><use href="#u" x="508.0" y="848.0"/><use href="#u" x="516.0" y="848.0"/><use href="#u" x="524.0" y="848.0"/><use href="#u" x="533.0" y="848.0"/><use href="#u" x="548.0" y="848.0"/><use href="#u" x="561.0" y="848.0"/><use href="#u" x="572.0" y="848.0"/><use href="#u" x="586.0" y="848.0"/><use href="#u" x="596.0" y="848.0"/><use href="#u" x="608.0" y="848.0"/><use href="#u" x="620.0" y="848.0"/><use href="#u" x="487.0" y="839.0"/><use href="#u" x="492.0" y="839.0"/><use href="#u" x="498.0" y="839.0"/><use href="#u" x="504.0" y="839.0"/><use href="#u" x="510.0" y="839.0"/><use href="#u" x="516.0" y="839.0"/><use href="#u" x="523.0" y="839.0"/><use href="#u" x="531.0" y="839.0"/><use href="#u" x="538.0" y="839.0"/><use href="#u" x="546.0" y="839.0"/><use href="#u" x="553.0" y="839.0"/><use href="#u" x="560.0" y="839.0"/><use href="#u" x="568.0" y="839.0"/><use href="#u" x="577.0" y="839.0"/><use href="#u" x="586.0" y="839.0"/><use href="#u" x="597.0" y="839.0"/><use href="#u" x="606.0" y="839.0"/><use href="#u" x="614.0" y="839.0"/><use href="#u" x="622.0" y="839.0"/><use href="#u" x="494.0" y="829.0"/><use href="#u" x="499.8" y="829.0"/><use href="#u" x="505.6" y="829.0"/><use href="#u" x="511.5" y="829.0"/><use href="#u" x="517.3" y="829.0"/><use href="#u" x="523.1" y="829.0"/><use href="#u" x="528.9" y="829.0"/><use href="#u" x="534.7" y="829.0"/><use href="#u" x="540.5" y="829.0"/><use href="#u" x="546.4" y="829.0"/><use href="#u" x="552.2" y="829.0"/><use href="#u" x="558.0" y="829.0"/><use href="#u" x="563.8" y="829.0"/><use href="#u" x="569.6" y="829.0"/><use href="#u" x="575.5" y="829.0"/><use href="#u" x="581.3" y="829.0"/><use href="#u" x="587.1" y="829.0"/><use href="#u" x="592.9" y="829.0"/><use href="#u" x="598.7" y="829.0"/><use href="#u" x="604.5" y="829.0"/><use href="#u" x="610.4" y="829.0"/><use href="#u" x="616.2" y="829.0"/><use href="#u" x="622.0" y="829.0"/><use href="#u" x="501.0" y="820.0"/><use href="#u" x="506.3" y="820.0"/><use href="#u" x="511.6" y="820.0"/><use href="#u" x="516.9" y="820.0"/><use href="#u" x="522.2" y="820.0"/><use href="#u" x="527.5" y="820.0"/><use href="#u" x="532.8" y="820.0"/><use href="#u" x="538.0" y="820.0"/><use href="#u" x="543.3" y="820.0"/><use href="#u" x="548.6" y="820.0"/><use href="#u" x="553.9" y="820.0"/><use href="#u" x="559.2" y="820.0"/><use href="#u" x="564.5" y="820.0"/><use href="#u" x="569.8" y="820.0"/><use href="#u" x="575.1" y="820.0"/><use href="#u" x="580.4" y="820.0"/><use href="#u" x="585.7" y="820.0"/><use href="#u" x="591.0" y="820.0"/><use href="#u" x="596.2" y="820.0"/><use href="#u" x="601.5" y="820.0"/><use href="#u" x="606.8" y="820.0"/><use href="#u" x="612.1" y="820.0"/><use href="#u" x="617.4" y="820.0"/><use href="#u" x="622.7" y="820.0"/><use href="#u" x="628.0" y="820.0"/><use href="#u" x="508.0" y="812.4"/><use href="#u" x="513.0" y="812.4"/><use href="#u" x="518.0" y="812.4"/><use href="#u" x="523.0" y="812.4"/><use href="#u" x="528.0" y="812.4"/><use href="#u" x="533.0" y="812.4"/><use href="#u" x="538.0" y="812.4"/><use href="#u" x="543.0" y="812.4"/><use href="#u" x="548.0" y="812.4"/><use href="#u" x="553.0" y="812.4"/><use href="#u" x="558.0" y="812.4"/><use href="#u" x="563.0" y="812.4"/><use href="#u" x="568.0" y="812.4"/><use href="#u" x="573.0" y="812.4"/><use href="#u" x="578.0" y="812.4"/><use href="#u" x="583.0" y="812.4"/><use href="#u" x="588.0" y="812.4"/><use href="#u" x="593.0" y="812.4"/><use href="#u" x="598.0" y="812.4"/><use href="#u" x="603.0" y="812.4"/><use href="#u" x="608.0" y="812.4"/><use href="#u" x="613.0" y="812.4"/><use href="#u" x="618.0" y="812.4"/><use href="#u" x="623.0" y="812.4"/><use href="#u" x="628.0" y="812.4"/><use href="#u" x="514.0" y="805.0"/><use href="#u" x="519.0" y="805.0"/><use href="#u" x="523.9" y="805.0"/><use href="#u" x="528.9" y="805.0"/><use href="#u" x="533.8" y="805.0"/><use href="#u" x="538.8" y="805.0"/><use href="#u" x="543.7" y="805.0"/><use href="#u" x="548.7" y="805.0"/><use href="#u" x="553.7" y="805.0"/><use href="#u" x="558.6" y="805.0"/><use href="#u" x="563.6" y="805.0"/><use href="#u" x="568.5" y="805.0"/><use href="#u" x="573.5" y="805.0"/><use href="#u" x="578.4" y="805.0"/><use href="#u" x="583.4" y="805.0"/><use href="#u" x="588.3" y="805.0"/><use href="#u" x="593.3" y="805.0"/><use href="#u" x="598.3" y="805.0"/><use href="#u" x="603.2" y="805.0"/><use href="#u" x="608.2" y="805.0"/><use href="#u" x="613.1" y="805.0"/><use href="#u" x="618.1" y="805.0"/><use href="#u" x="623.0" y="805.0"/><use href="#u" x="628.0" y="805.0"/><use href="#u" x="520.0" y="798.0"/><use href="#u" x="524.9" y="798.0"/><use href="#u" x="529.8" y="798.0"/><use href="#u" x="534.7" y="798.0"/><use href="#u" x="539.6" y="798.0"/><use href="#u" x="544.5" y="798.0"/><use href="#u" x="549.5" y="798.0"/><use href="#u" x="554.4" y="798.0"/><use href="#u" x="559.3" y="798.0"/><use href="#u" x="564.2" y="798.0"/><use href="#u" x="569.1" y="798.0"/><use href="#u" x="574.0" y="798.0"/><use href="#u" x="578.9" y="798.0"/><use href="#u" x="583.8" y="798.0"/><use href="#u" x="588.7" y="798.0"/><use href="#u" x="593.6" y="798.0"/><use href="#u" x="598.5" y="798.0"/><use href="#u" x="603.5" y="798.0"/><use href="#u" x="608.4" y="798.0"/><use href="#u" x="613.3" y="798.0"/><use href="#u" x="618.2" y="798.0"/><use href="#u" x="623.1" y="798.0"/><use href="#u" x="628.0" y="798.0"/><use href="#u" x="547.0" y="790.5"/><use href="#u" x="550.2" y="790.5"/><use href="#u" x="553.5" y="790.5"/><use href="#u" x="556.8" y="790.5"/><use href="#u" x="560.0" y="790.5"/><use href="#u" x="563.2" y="790.5"/><use href="#u" x="566.5" y="790.5"/><use href="#u" x="569.8" y="790.5"/><use href="#u" x="573.0" y="790.5"/><use href="#u" x="576.2" y="790.5"/><use href="#u" x="579.5" y="790.5"/><use href="#u" x="582.8" y="790.5"/><use href="#u" x="586.0" y="790.5"/><use href="#u" x="589.2" y="790.5"/><use href="#u" x="592.5" y="790.5"/><use href="#u" x="595.8" y="790.5"/><use href="#u" x="599.0" y="790.5"/><use href="#u" x="547.0" y="794.1"/><use href="#u" x="550.2" y="794.1"/><use href="#u" x="553.5" y="794.1"/><use href="#u" x="556.8" y="794.1"/><use href="#u" x="560.0" y="794.1"/><use href="#u" x="563.2" y="794.1"/><use href="#u" x="566.5" y="794.1"/><use href="#u" x="569.8" y="794.1"/><use href="#u" x="573.0" y="794.1"/><use href="#u" x="576.2" y="794.1"/><use href="#u" x="579.5" y="794.1"/><use href="#u" x="582.8" y="794.1"/><use href="#u" x="586.0" y="794.1"/><use href="#u" x="589.2" y="794.1"/><use href="#u" x="592.5" y="794.1"/><use href="#u" x="595.8" y="794.1"/><use href="#u" x="599.0" y="794.1"/><use href="#u" x="547.0" y="797.6"/><use href="#u" x="550.2" y="797.6"/><use href="#u" x="553.5" y="797.6"/><use href="#u" x="556.8" y="797.6"/><use href="#u" x="560.0" y="797.6"/><use href="#u" x="563.2" y="797.6"/><use href="#u" x="566.5" y="797.6"/><use href="#u" x="569.8" y="797.6"/><use href="#u" x="573.0" y="797.6"/><use href="#u" x="576.2" y="797.6"/><use href="#u" x="579.5" y="797.6"/><use href="#u" x="582.8" y="797.6"/><use href="#u" x="586.0" y="797.6"/><use href="#u" x="589.2" y="797.6"/><use href="#u" x="592.5" y="797.6"/><use href="#u" x="595.8" y="797.6"/><use href="#u" x="599.0" y="797.6"/><use href="#u" x="547.0" y="801.2"/><use href="#u" x="550.2" y="801.2"/><use href="#u" x="553.5" y="801.2"/><use href="#u" x="556.8" y="801.2"/><use href="#u" x="560.0" y="801.2"/><use href="#u" x="563.2" y="801.2"/><use href="#u" x="566.5" y="801.2"/><use href="#u" x="569.8" y="801.2"/><use href="#u" x="573.0" y="801.2"/><use href="#u" x="576.2" y="801.2"/><use href="#u" x="579.5" y="801.2"/><use href="#u" x="582.8" y="801.2"/><use href="#u" x="586.0" y="801.2"/><use href="#u" x="589.2" y="801.2"/><use href="#u" x="592.5" y="801.2"/><use href="#u" x="595.8" y="801.2"/><use href="#u" x="599.0" y="801.2"/><use href="#u" x="547.0" y="804.8"/><use href="#u" x="550.2" y="804.8"/><use href="#u" x="553.5" y="804.8"/><use href="#u" x="556.8" y="804.8"/><use href="#u" x="560.0" y="804.8"/><use href="#u" x="563.2" y="804.8"/><use href="#u" x="566.5" y="804.8"/><use href="#u" x="569.8" y="804.8"/><use href="#u" x="573.0" y="804.8"/><use href="#u" x="576.2" y="804.8"/><use href="#u" x="579.5" y="804.8"/><use href="#u" x="582.8" y="804.8"/><use href="#u" x="586.0" y="804.8"/><use href="#u" x="589.2" y="804.8"/><use href="#u" x="592.5" y="804.8"/><use href="#u" x="595.8" y="804.8"/><use href="#u" x="599.0" y="804.8"/><use href="#u" x="547.0" y="808.3"/><use href="#u" x="550.2" y="808.3"/><use href="#u" x="553.5" y="808.3"/><use href="#u" x="556.8" y="808.3"/><use href="#u" x="560.0" y="808.3"/><use href="#u" x="563.2" y="808.3"/><use href="#u" x="566.5" y="808.3"/><use href="#u" x="569.8" y="808.3"/><use href="#u" x="573.0" y="808.3"/><use href="#u" x="576.2" y="808.3"/><use href="#u" x="579.5" y="808.3"/><use href="#u" x="582.8" y="808.3"/><use href="#u" x="586.0" y="808.3"/><use href="#u" x="589.2" y="808.3"/><use href="#u" x="592.5" y="808.3"/><use href="#u" x="595.8" y="808.3"/><use href="#u" x="599.0" y="808.3"/><use href="#u" x="547.0" y="811.9"/><use href="#u" x="550.2" y="811.9"/><use href="#u" x="553.5" y="811.9"/><use href="#u" x="556.8" y="811.9"/><use href="#u" x="560.0" y="811.9"/><use href="#u" x="563.2" y="811.9"/><use href="#u" x="566.5" y="811.9"/><use href="#u" x="569.8" y="811.9"/><use href="#u" x="573.0" y="811.9"/><use href="#u" x="576.2" y="811.9"/><use href="#u" x="579.5" y="811.9"/><use href="#u" x="582.8" y="811.9"/><use href="#u" x="586.0" y="811.9"/><use href="#u" x="589.2" y="811.9"/><use href="#u" x="592.5" y="811.9"/><use href="#u" x="595.8" y="811.9"/><use href="#u" x="599.0" y="811.9"/><use href="#u" x="547.0" y="815.4"/><use href="#u" x="550.2" y="815.4"/><use href="#u" x="553.5" y="815.4"/><use href="#u" x="556.8" y="815.4"/><use href="#u" x="560.0" y="815.4"/><use href="#u" x="563.2" y="815.4"/><use href="#u" x="566.5" y="815.4"/><use href="#u" x="569.8" y="815.4"/><use href="#u" x="573.0" y="815.4"/><use href="#u" x="576.2" y="815.4"/><use href="#u" x="579.5" y="815.4"/><use href="#u" x="582.8" y="815.4"/><use href="#u" x="586.0" y="815.4"/><use href="#u" x="589.2" y="815.4"/><use href="#u" x="592.5" y="815.4"/><use href="#u" x="595.8" y="815.4"/><use href="#u" x="599.0" y="815.4"/><use href="#u" x="547.0" y="819.0"/><use href="#u" x="550.2" y="819.0"/><use href="#u" x="553.5" y="819.0"/><use href="#u" x="556.8" y="819.0"/><use href="#u" x="560.0" y="819.0"/><use href="#u" x="563.2" y="819.0"/><use href="#u" x="566.5" y="819.0"/><use href="#u" x="569.8" y="819.0"/><use href="#u" x="573.0" y="819.0"/><use href="#u" x="576.2" y="819.0"/><use href="#u" x="579.5" y="819.0"/><use href="#u" x="582.8" y="819.0"/><use href="#u" x="586.0" y="819.0"/><use href="#u" x="589.2" y="819.0"/><use href="#u" x="592.5" y="819.0"/><use href="#u" x="595.8" y="819.0"/><use href="#u" x="599.0" y="819.0"/><use href="#u" x="559.0" y="768.0"/><use href="#u" x="562.1" y="768.0"/><use href="#u" x="565.2" y="768.0"/><use href="#u" x="568.4" y="768.0"/><use href="#u" x="571.5" y="768.0"/><use href="#u" x="574.6" y="768.0"/><use href="#u" x="577.7" y="768.0"/><use href="#u" x="580.8" y="768.0"/><use href="#u" x="583.9" y="768.0"/><use href="#u" x="587.1" y="768.0"/><use href="#u" x="590.2" y="768.0"/><use href="#u" x="593.3" y="768.0"/><use href="#u" x="596.4" y="768.0"/><use href="#u" x="599.5" y="768.0"/><use href="#u" x="602.6" y="768.0"/><use href="#u" x="605.8" y="768.0"/><use href="#u" x="608.9" y="768.0"/><use href="#u" x="612.0" y="768.0"/><use href="#u" x="560.5" y="773.0"/><use href="#u" x="563.6" y="773.0"/><use href="#u" x="566.8" y="773.0"/><use href="#u" x="569.9" y="773.0"/><use href="#u" x="573.0" y="773.0"/><use href="#u" x="576.1" y="773.0"/><use href="#u" x="579.2" y="773.0"/><use href="#u" x="582.4" y="773.0"/><use href="#u" x="585.5" y="773.0"/><use href="#u" x="588.6" y="773.0"/><use href="#u" x="591.8" y="773.0"/><use href="#u" x="594.9" y="773.0"/><use href="#u" x="598.0" y="773.0"/><use href="#u" x="601.1" y="773.0"/><use href="#u" x="604.2" y="773.0"/><use href="#u" x="607.4" y="773.0"/><use href="#u" x="610.5" y="773.0"/><use href="#u" x="562.0" y="785.0"/><use href="#u" x="595.0" y="785.0"/><use href="#u" x="586.0" y="758.0"/><use href="#u" x="597.6" y="758.0"/><use href="#u" x="592.5" y="749.0"/><use href="#u" x="599.0" y="749.0"/></g>
<g fill="#e78ac3"><use href="#l" x="169.0" y="523.6"/><use href="#l" x="172.6" y="523.6"/><use href="#l" x="176.2" y="523.6"/><use href="#l" x="179.8" y="523.6"/><use href="#l" x="183.4" y="523.6"/><use href="#l" x="187.0" y="523.6"/><use href="#l" x="190.6" y="523.6"/><use href="#l" x="194.2" y="523.6"/><use href="#l" x="197.8" y="523.6"/><use href="#l" x="201.4" y="523.6"/><use href="#l" x="205.0" y="523.6"/><use href="#l" x="208.6" y="523.6"/><use href="#l" x="212.2" y="523.6"/><use href="#l" x="215.8" y="523.6"/><use href="#l" x="219.4" y="523.6"/><use href="#l" x="223.0" y="523.6"/><use href="#l" x="226.6" y="523.6"/><use href="#l" x="230.1" y="523.6"/><use href="#l" x="233.7" y="523.6"/><use href="#l" x="237.3" y="523.6"/><use href="#l" x="240.9" y="523.6"/><use href="#l" x="244.5" y="523.6"/><use href="#l" x="248.1" y="523.6"/><use href="#l" x="251.7" y="523.6"/><use href="#l" x="255.3" y="523.6"/><use href="#l" x="258.9" y="523.6"/><use href="#l" x="262.5" y="523.6"/><use href="#l" x="266.1" y="523.6"/><use href="#l" x="269.7" y="523.6"/><use href="#l" x="273.3" y="523.6"/><use href="#l" x="276.9" y="523.6"/><use href="#l" x="280.5" y="523.6"/><use href="#l" x="284.1" y="523.6"/><use href="#l" x="287.7" y="523.6"/><use href="#l" x="291.3" y="523.6"/><use href="#l" x="294.9" y="523.6"/><use href="#l" x="298.5" y="523.6"/><use href="#l" x="302.1" y="523.6"/><use href="#l" x="305.7" y="523.6"/><use href="#l" x="309.3" y="523.6"/><use href="#l" x="312.9" y="523.6"/><use href="#l" x="316.5" y="523.6"/><use href="#l" x="320.1" y="523.6"/><use href="#l" x="323.7" y="523.6"/><use href="#l" x="327.3" y="523.6"/><use href="#l" x="330.9" y="523.6"/><use href="#l" x="334.5" y="523.6"/><use href="#l" x="338.1" y="523.6"/><use href="#l" x="341.7" y="523.6"/><use href="#l" x="345.3" y="523.6"/><use href="#l" x="348.9" y="523.6"/><use href="#l" x="352.4" y="523.6"/><use href="#l" x="356.0" y="523.6"/><use href="#l" x="359.6" y="523.6"/><use href="#l" x="363.2" y="523.6"/><use href="#l" x="366.8" y="523.6"/><use href="#l" x="370.4" y="523.6"/><use href="#l" x="374.0" y="523.6"/><use href="#l" x="377.6" y="523.6"/><use href="#l" x="381.2" y="523.6"/><use href="#l" x="384.8" y="523.6"/><use href="#l" x="388.4" y="523.6"/><use href="#l" x="392.0" y="523.6"/><use href="#l" x="395.6" y="523.6"/><use href="#l" x="399.2" y="523.6"/><use href="#l" x="402.8" y="523.6"/><use href="#l" x="406.4" y="523.6"/><use href="#l" x="410.0" y="523.6"/><use href="#l" x="413.6" y="523.6"/><use href="#l" x="417.2" y="523.6"/><use href="#l" x="420.8" y="523.6"/><use href="#l" x="424.4" y="523.6"/><use href="#l" x="428.0" y="523.6"/><use href="#l" x="431.6" y="523.6"/><use href="#l" x="435.2" y="523.6"/><use href="#l" x="438.8" y="523.6"/><use href="#l" x="442.4" y="523.6"/><use href="#l" x="446.0" y="523.6"/><use href="#l" x="449.6" y="523.6"/><use href="#l" x="453.2" y="523.6"/><use href="#l" x="456.8" y="523.6"/><use href="#l" x="460.4" y="523.6"/><use href="#l" x="464.0" y="523.6"/><use href="#l" x="467.6" y="523.6"/><use href="#l" x="471.1" y="523.6"/><use href="#l" x="474.7" y="523.6"/><use href="#l" x="478.3" y="523.6"/><use href="#l" x="481.9" y="523.6"/><use href="#l" x="485.5" y="523.6"/><use href="#l" x="489.1" y="523.6"/><use href="#l" x="492.7" y="523.6"/><use href="#l" x="496.3" y="523.6"/><use href="#l" x="499.9" y="523.6"/><use href="#l" x="503.5" y="523.6"/><use href="#l" x="507.1" y="523.6"/><use href="#l" x="510.7" y="523.6"/><use href="#l" x="514.3" y="523.6"/><use href="#l" x="517.9" y="523.6"/><use href="#l" x="521.5" y="523.6"/><use href="#l" x="525.1" y="523.6"/><use href="#l" x="528.7" y="523.6"/><use href="#l" x="532.3" y="523.6"/><use href="#l" x="535.9" y="523.6"/><use href="#l" x="539.5" y="523.6"/><use href="#l" x="543.1" y="523.6"/><use href="#l" x="546.7" y="523.6"/><use href="#l" x="550.3" y="523.6"/><use href="#l" x="553.9" y="523.6"/><use href="#l" x="557.5" y="523.6"/><use href="#l" x="561.1" y="523.6"/><use href="#l" x="564.7" y="523.6"/><use href="#l" x="568.3" y="523.6"/><use href="#l" x="571.9" y="523.6"/><use href="#l" x="575.5" y="523.6"/><use href="#l" x="579.1" y="523.6"/><use href="#l" x="582.7" y="523.6"/><use href="#l" x="586.3" y="523.6"/><use href="#l" x="589.9" y="523.6"/><use href="#l" x="593.4" y="523.6"/><use href="#l" x="597.0" y="523.6"/><use href="#l" x="600.6" y="523.6"/><use href="#l" x="604.2" y="523.6"/><use href="#l" x="607.8" y="523.6"/><use href="#l" x="611.4" y="523.6"/><use href="#l" x="615.0" y="523.6"/><use href="#l" x="618.6" y="523.6"/><use href="#l" x="622.2" y="523.6"/><use href="#l" x="625.8" y="523.6"/><use href="#l" x="629.4" y="523.6"/><use href="#l" x="633.0" y="523.6"/><use href="#l" x="636.6" y="523.6"/><use href="#l" x="640.2" y="523.6"/><use href="#l" x="643.8" y="523.6"/><use href="#l" x="647.4" y="523.6"/><use href="#l" x="651.0" y="523.6"/><use href="#l" x="293.6" y="538.2"/><use href="#l" x="527.6" y="538.2"/><use href="#l" x="279.8" y="538.2"/><use href="#l" x="541.4" y="538.2"/><use href="#l" x="266.1" y="538.2"/><use href="#l" x="555.2" y="538.2"/><use href="#l" x="252.3" y="538.2"/><use href="#l" x="569.0" y="538.2"/><use href="#l" x="238.5" y="538.2"/><use href="#l" x="582.7" y="538.2"/><use href="#l" x="224.8" y="538.2"/><use href="#l" x="596.5" y="538.2"/><use href="#l" x="204.1" y="538.2"/><use href="#l" x="617.1" y="538.2"/><use href="#l" x="176.6" y="538.2"/><use href="#l" x="644.7" y="538.2"/><use href="#l" x="286.3" y="538.2"/><use href="#l" x="520.3" y="538.2"/><use href="#l" x="272.5" y="538.2"/><use href="#l" x="534.1" y="538.2"/><use href="#l" x="258.7" y="538.2"/><use href="#l" x="547.8" y="538.2"/><use href="#l" x="245.0" y="538.2"/><use href="#l" x="561.6" y="538.2"/><use href="#l" x="231.2" y="538.2"/><use href="#l" x="575.4" y="538.2"/><use href="#l" x="217.4" y="538.2"/><use href="#l" x="589.1" y="538.2"/><use href="#l" x="196.8" y="538.2"/><use href="#l" x="609.8" y="538.2"/><use href="#l" x="169.2" y="538.2"/><use href="#l" x="637.3" y="538.2"/><use href="#l" x="296.0" y="538.2"/><use href="#l" x="299.6" y="538.2"/><use href="#l" x="303.2" y="538.2"/><use href="#l" x="306.8" y="538.2"/><use href="#l" x="310.5" y="538.2"/><use href="#l" x="314.1" y="538.2"/><use href="#l" x="317.7" y="538.2"/><use href="#l" x="321.3" y="538.2"/><use href="#l" x="324.9" y="538.2"/><use href="#l" x="328.5" y="538.2"/><use href="#l" x="332.1" y="538.2"/><use href="#l" x="335.8" y="538.2"/><use href="#l" x="339.4" y="538.2"/><use href="#l" x="343.0" y="538.2"/><use href="#l" x="346.6" y="538.2"/><use href="#l" x="350.2" y="538.2"/><use href="#l" x="353.8" y="538.2"/><use href="#l" x="357.4" y="538.2"/><use href="#l" x="361.1" y="538.2"/><use href="#l" x="364.7" y="538.2"/><use href="#l" x="368.3" y="538.2"/><use href="#l" x="371.9" y="538.2"/><use href="#l" x="375.5" y="538.2"/><use href="#l" x="379.1" y="538.2"/><use href="#l" x="382.7" y="538.2"/><use href="#l" x="386.4" y="538.2"/><use href="#l" x="390.0" y="538.2"/><use href="#l" x="393.6" y="538.2"/><use href="#l" x="397.2" y="538.2"/><use href="#l" x="400.8" y="538.2"/><use href="#l" x="404.4" y="538.2"/><use href="#l" x="408.0" y="538.2"/><use href="#l" x="411.7" y="538.2"/><use href="#l" x="415.3" y="538.2"/><use href="#l" x="418.9" y="538.2"/><use href="#l" x="422.5" y="538.2"/><use href="#l" x="426.1" y="538.2"/><use href="#l" x="429.7" y="538.2"/><use href="#l" x="433.3" y="538.2"/><use href="#l" x="437.0" y="538.2"/><use href="#l" x="440.6" y="538.2"/><use href="#l" x="444.2" y="538.2"/><use href="#l" x="447.8" y="538.2"/><use href="#l" x="451.4" y="538.2"/><use href="#l" x="455.0" y="538.2"/><use href="#l" x="458.7" y="538.2"/><use href="#l" x="462.3" y="538.2"/><use href="#l" x="465.9" y="538.2"/><use href="#l" x="469.5" y="538.2"/><use href="#l" x="473.1" y="538.2"/><use href="#l" x="476.7" y="538.2"/><use href="#l" x="480.3" y="538.2"/><use href="#l" x="484.0" y="538.2"/><use href="#l" x="487.6" y="538.2"/><use href="#l" x="491.2" y="538.2"/><use href="#l" x="494.8" y="538.2"/><use href="#l" x="498.4" y="538.2"/><use href="#l" x="502.0" y="538.2"/><use href="#l" x="505.6" y="538.2"/><use href="#l" x="509.3" y="538.2"/><use href="#l" x="512.9" y="538.2"/><use href="#l" x="516.5" y="538.2"/><use href="#l" x="520.1" y="538.2"/><use href="#l" x="523.7" y="538.2"/><use href="#l" x="527.3" y="538.2"/><use href="#l" x="530.9" y="538.2"/><use href="#l" x="534.6" y="538.2"/><use href="#l" x="538.2" y="538.2"/><use href="#l" x="541.8" y="538.2"/><use href="#l" x="545.4" y="538.2"/><use href="#l" x="549.0" y="538.2"/><use href="#l" x="552.6" y="538.2"/><use href="#l" x="556.2" y="538.2"/><use href="#l" x="559.9" y="538.2"/><use href="#l" x="563.5" y="538.2"/><use href="#l" x="567.1" y="538.2"/><use href="#l" x="570.7" y="538.2"/><use href="#l" x="574.3" y="538.2"/><use href="#l" x="577.9" y="538.2"/><use href="#l" x="581.5" y="538.2"/><use href="#l" x="585.2" y="538.2"/><use href="#l" x="588.8" y="538.2"/><use href="#l" x="592.4" y="538.2"/><use href="#l" x="596.0" y="538.2"/><use href="#l" x="581.2" y="479.7"/><use href="#l" x="603.0" y="479.7"/><use href="#l" x="625.0" y="479.7"/><use href="#l" x="251.0" y="479.7"/><use href="#l" x="273.0" y="479.7"/><use href="#l" x="295.0" y="479.7"/><use href="#l" x="375.0" y="616.0"/><use href="#l" x="369.0" y="626.0"/><use href="#l" x="360.0" y="644.4"/><use href="#l" x="346.4" y="673.0"/><use href="#l" x="332.6" y="702.0"/><use href="#l" x="317.0" y="735.0"/><use href="#l" x="434.0" y="489.1"/><use href="#l" x="441.2" y="474.2"/><use href="#l" x="448.5" y="458.7"/><use href="#l" x="455.0" y="445.2"/><use href="#l" x="460.8" y="433.0"/></g>
<g fill="#ffd92f"><use href="#c" x="382.2" y="639.2"/><use href="#c" x="404.2" y="639.2"/><use href="#c" x="360.2" y="639.2"/><use href="#c" x="426.3" y="639.2"/><use href="#c" x="338.2" y="639.2"/><use href="#c" x="448.3" y="639.2"/><use href="#c" x="316.1" y="639.2"/><use href="#c" x="470.3" y="639.2"/><use href="#c" x="294.1" y="639.2"/><use href="#c" x="492.4" y="639.2"/><use href="#c" x="272.1" y="639.2"/><use href="#c" x="514.4" y="639.2"/><use href="#c" x="393.3" y="615.9"/><use href="#c" x="415.4" y="615.9"/><use href="#c" x="371.3" y="615.9"/><use href="#c" x="437.4" y="615.9"/><use href="#c" x="349.3" y="615.9"/><use href="#c" x="459.4" y="615.9"/><use href="#c" x="327.3" y="615.9"/><use href="#c" x="481.5" y="615.9"/><use href="#c" x="305.2" y="615.9"/><use href="#c" x="503.5" y="615.9"/><use href="#c" x="283.2" y="615.9"/><use href="#c" x="525.5" y="615.9"/><use href="#c" x="404.3" y="593.0"/><use href="#c" x="426.3" y="593.0"/><use href="#c" x="382.2" y="593.0"/><use href="#c" x="448.3" y="593.0"/><use href="#c" x="360.2" y="593.0"/><use href="#c" x="470.4" y="593.0"/><use href="#c" x="338.2" y="593.0"/><use href="#c" x="492.4" y="593.0"/><use href="#c" x="316.2" y="593.0"/><use href="#c" x="514.4" y="593.0"/><use href="#c" x="294.1" y="593.0"/><use href="#c" x="536.4" y="593.0"/><use href="#c" x="414.3" y="571.9"/><use href="#c" x="436.3" y="571.9"/><use href="#c" x="392.3" y="571.9"/><use href="#c" x="458.4" y="571.9"/><use href="#c" x="370.3" y="571.9"/><use href="#c" x="480.4" y="571.9"/><use href="#c" x="348.2" y="571.9"/><use href="#c" x="502.4" y="571.9"/><use href="#c" x="326.2" y="571.9"/><use href="#c" x="524.5" y="571.9"/><use href="#c" x="304.2" y="571.9"/><use href="#c" x="546.5" y="571.9"/><use href="#c" x="422.8" y="554.2"/><use href="#c" x="444.8" y="554.2"/><use href="#c" x="400.8" y="554.2"/><use href="#c" x="466.9" y="554.2"/><use href="#c" x="378.7" y="554.2"/><use href="#c" x="488.9" y="554.2"/><use href="#c" x="356.7" y="554.2"/><use href="#c" x="510.9" y="554.2"/><use href="#c" x="334.7" y="554.2"/><use href="#c" x="532.9" y="554.2"/><use href="#c" x="312.7" y="554.2"/><use href="#c" x="555.0" y="554.2"/><use href="#c" x="430.2" y="538.7"/><use href="#c" x="452.2" y="538.7"/><use href="#c" x="408.1" y="538.7"/><use href="#c" x="474.2" y="538.7"/><use href="#c" x="386.1" y="538.7"/><use href="#c" x="496.2" y="538.7"/><use href="#c" x="364.1" y="538.7"/><use href="#c" x="518.3" y="538.7"/><use href="#c" x="342.0" y="538.7"/><use href="#c" x="540.3" y="538.7"/><use href="#c" x="320.0" y="538.7"/><use href="#c" x="562.3" y="538.7"/><use href="#c" x="439.6" y="518.9"/><use href="#c" x="461.6" y="518.9"/><use href="#c" x="417.6" y="518.9"/><use href="#c" x="483.7" y="518.9"/><use href="#c" x="395.6" y="518.9"/><use href="#c" x="505.7" y="518.9"/><use href="#c" x="373.5" y="518.9"/><use href="#c" x="527.7" y="518.9"/><use href="#c" x="351.5" y="518.9"/><use href="#c" x="549.8" y="518.9"/><use href="#c" x="329.5" y="518.9"/><use href="#c" x="571.8" y="518.9"/><use href="#c" x="455.8" y="485.0"/><use href="#c" x="477.9" y="485.0"/><use href="#c" x="433.8" y="485.0"/><use href="#c" x="499.9" y="485.0"/><use href="#c" x="411.8" y="485.0"/><use href="#c" x="521.9" y="485.0"/><use href="#c" x="389.7" y="485.0"/><use href="#c" x="543.9" y="485.0"/><use href="#c" x="367.7" y="485.0"/><use href="#c" x="566.0" y="485.0"/><use href="#c" x="345.7" y="485.0"/><use href="#c" x="588.0" y="485.0"/><use href="#c" x="338.0" y="651.9"/><use href="#c" x="360.0" y="651.9"/><use href="#c" x="315.9" y="651.9"/><use href="#c" x="382.0" y="651.9"/><use href="#c" x="293.9" y="651.9"/><use href="#c" x="404.1" y="651.9"/><use href="#c" x="271.9" y="651.9"/><use href="#c" x="426.1" y="651.9"/><use href="#c" x="366.1" y="593.0"/><use href="#c" x="388.1" y="593.0"/><use href="#c" x="344.1" y="593.0"/><use href="#c" x="410.2" y="593.0"/><use href="#c" x="322.0" y="593.0"/><use href="#c" x="432.2" y="593.0"/><use href="#c" x="300.0" y="593.0"/><use href="#c" x="454.2" y="593.0"/><use href="#c" x="384.6" y="554.2"/><use href="#c" x="406.7" y="554.2"/><use href="#c" x="362.6" y="554.2"/><use href="#c" x="428.7" y="554.2"/><use href="#c" x="340.6" y="554.2"/><use href="#c" x="450.7" y="554.2"/><use href="#c" x="318.6" y="554.2"/><use href="#c" x="472.7" y="554.2"/><use href="#c" x="398.5" y="525.1"/><use href="#c" x="420.5" y="525.1"/><use href="#c" x="376.4" y="525.1"/><use href="#c" x="442.5" y="525.1"/><use href="#c" x="354.4" y="525.1"/><use href="#c" x="464.6" y="525.1"/><use href="#c" x="332.4" y="525.1"/><use href="#c" x="486.6" y="525.1"/><use href="#c" x="409.5" y="502.0"/><use href="#c" x="431.6" y="502.0"/><use href="#c" x="387.5" y="502.0"/><use href="#c" x="453.6" y="502.0"/><use href="#c" x="365.5" y="502.0"/><use href="#c" x="475.6" y="502.0"/><use href="#c" x="343.4" y="502.0"/><use href="#c" x="497.6" y="502.0"/><use href="#c" x="418.7" y="482.7"/><use href="#c" x="440.7" y="482.7"/><use href="#c" x="396.7" y="482.7"/><use href="#c" x="462.8" y="482.7"/><use href="#c" x="374.7" y="482.7"/><use href="#c" x="484.8" y="482.7"/><use href="#c" x="352.6" y="482.7"/><use href="#c" x="506.8" y="482.7"/><use href="#c" x="428.4" y="462.4"/><use href="#c" x="450.4" y="462.4"/><use href="#c" x="406.4" y="462.4"/><use href="#c" x="472.5" y="462.4"/><use href="#c" x="384.4" y="462.4"/><use href="#c" x="494.5" y="462.4"/><use href="#c" x="362.3" y="462.4"/><use href="#c" x="516.5" y="462.4"/><use href="#c" x="430.0" y="516.3"/><use href="#c" x="434.2" y="513.0"/><use href="#c" x="439.1" y="508.5"/><use href="#c" x="444.2" y="502.9"/><use href="#c" x="449.2" y="496.9"/><use href="#c" x="453.8" y="490.7"/><use href="#c" x="460.4" y="481.2"/><use href="#c" x="472.8" y="461.1"/><use href="#c" x="487.7" y="434.5"/><use href="#c" x="547.7" y="314.7"/></g>
<g fill="#e5c494"><use href="#s" x="340.0" y="449.7"/><use href="#s" x="347.1" y="449.7"/><use href="#s" x="354.1" y="449.7"/><use href="#s" x="361.2" y="449.7"/><use href="#s" x="368.2" y="449.7"/><use href="#s" x="375.3" y="449.7"/><use href="#s" x="382.4" y="449.7"/><use href="#s" x="389.4" y="449.7"/><use href="#s" x="396.5" y="449.7"/><use href="#s" x="403.5" y="449.7"/><use href="#s" x="410.6" y="449.7"/><use href="#s" x="417.6" y="449.7"/><use href="#s" x="424.7" y="449.7"/><use href="#s" x="431.8" y="449.7"/><use href="#s" x="438.8" y="449.7"/><use href="#s" x="445.9" y="449.7"/><use href="#s" x="452.9" y="449.7"/><use href="#s" x="460.0" y="449.7"/><use href="#s" x="467.1" y="449.7"/><use href="#s" x="474.1" y="449.7"/><use href="#s" x="481.2" y="449.7"/><use href="#s" x="488.2" y="449.7"/><use href="#s" x="495.3" y="449.7"/><use href="#s" x="502.4" y="449.7"/><use href="#s" x="509.4" y="449.7"/><use href="#s" x="516.5" y="449.7"/><use href="#s" x="523.5" y="449.7"/><use href="#s" x="530.6" y="449.7"/><use href="#s" x="537.6" y="449.7"/><use href="#s" x="544.7" y="449.7"/><use href="#s" x="551.8" y="449.7"/><use href="#s" x="558.8" y="449.7"/><use href="#s" x="565.9" y="449.7"/><use href="#s" x="572.9" y="449.7"/><use href="#s" x="580.0" y="449.7"/></g>
<g fill="#fc8d62"><use href="#ve" x="182.0" y="951.6"/><use href="#ve" x="164.0" y="932.2"/><use href="#ve" x="210.0" y="932.2"/><use href="#ve" x="193.0" y="901.1"/><use href="#ve" x="213.6" y="901.1"/><use href="#ve" x="238.0" y="901.1"/><use href="#ve" x="264.0" y="901.1"/><use href="#ve" x="299.0" y="901.1"/><use href="#ve" x="337.0" y="901.1"/><use href="#ve" x="218.6" y="877.7"/><use href="#ve" x="238.0" y="877.7"/><use href="#ve" x="264.0" y="877.7"/><use href="#ve" x="292.6" y="877.7"/><use href="#ve" x="326.6" y="877.7"/><use href="#ve" x="359.0" y="877.7"/><use href="#ve" x="248.6" y="844.5"/><use href="#ve" x="264.0" y="844.5"/><use href="#ve" x="294.6" y="844.5"/><use href="#ve" x="324.5" y="844.5"/><use href="#ve" x="340.0" y="844.5"/><use href="#ve" x="370.0" y="844.5"/><use href="#ve" x="390.6" y="844.5"/><use href="#ve" x="294.6" y="808.2"/><use href="#ve" x="314.4" y="808.2"/><use href="#ve" x="340.0" y="808.2"/><use href="#ve" x="364.6" y="808.2"/><use href="#ve" x="390.6" y="808.2"/><use href="#ve" x="425.6" y="808.2"/><use href="#ve" x="314.4" y="768.2"/><use href="#ve" x="340.0" y="768.2"/><use href="#ve" x="370.0" y="768.2"/><use href="#ve" x="403.0" y="768.2"/><use href="#ve" x="453.6" y="768.2"/><use href="#ve" x="364.6" y="738.7"/><use href="#ve" x="417.4" y="738.7"/><use href="#ve" x="403.0" y="706.4"/><use href="#ve" x="453.0" y="706.4"/><use href="#ve" x="417.0" y="670.7"/><use href="#ve" x="467.0" y="670.7"/><use href="#ve" x="491.4" y="605.9"/></g>
<g fill="#8da0cb"><use href="#ue" x="549.6" y="866.0"/><use href="#ue" x="560.0" y="861.6"/><use href="#ue" x="571.0" y="856.6"/><use href="#ue" x="581.4" y="849.0"/><use href="#ue" x="591.6" y="840.4"/><use href="#ue" x="603.0" y="831.4"/><use href="#ue" x="614.4" y="831.4"/><use href="#ue" x="617.0" y="841.0"/><use href="#ue" x="619.0" y="849.0"/><use href="#ue" x="622.4" y="856.6"/><use href="#ue" x="628.0" y="862.0"/><use href="#ue" x="634.6" y="866.0"/></g>
<g fill="#e78ac3"><use href="#le" x="377.9" y="579.9"/><use href="#le" x="388.9" y="579.9"/><use href="#le" x="366.8" y="579.9"/><use href="#le" x="399.9" y="579.9"/><use href="#le" x="355.8" y="579.9"/><use href="#le" x="410.9" y="579.9"/><use href="#le" x="344.8" y="579.9"/><use href="#le" x="421.9" y="579.9"/><use href="#le" x="333.8" y="579.9"/><use href="#le" x="432.9" y="579.9"/><use href="#le" x="322.8" y="579.9"/><use href="#le" x="443.9" y="579.9"/><use href="#le" x="311.8" y="579.9"/><use href="#le" x="454.9" y="579.9"/><use href="#le" x="300.8" y="579.9"/><use href="#le" x="466.0" y="579.9"/><use href="#le" x="289.7" y="579.9"/><use href="#le" x="477.0" y="579.9"/><use href="#le" x="278.7" y="579.9"/><use href="#le" x="488.0" y="579.9"/><use href="#le" x="267.7" y="579.9"/><use href="#le" x="499.0" y="579.9"/><use href="#le" x="256.7" y="579.9"/><use href="#le" x="510.0" y="579.9"/><use href="#le" x="392.5" y="549.3"/><use href="#le" x="403.5" y="549.3"/><use href="#le" x="381.4" y="549.3"/><use href="#le" x="414.5" y="549.3"/><use href="#le" x="370.4" y="549.3"/><use href="#le" x="425.5" y="549.3"/><use href="#le" x="359.4" y="549.3"/><use href="#le" x="436.5" y="549.3"/><use href="#le" x="348.4" y="549.3"/><use href="#le" x="447.5" y="549.3"/><use href="#le" x="337.4" y="549.3"/><use href="#le" x="458.5" y="549.3"/><use href="#le" x="326.4" y="549.3"/><use href="#le" x="469.5" y="549.3"/><use href="#le" x="315.4" y="549.3"/><use href="#le" x="480.6" y="549.3"/><use href="#le" x="304.3" y="549.3"/><use href="#le" x="491.6" y="549.3"/><use href="#le" x="293.3" y="549.3"/><use href="#le" x="502.6" y="549.3"/><use href="#le" x="282.3" y="549.3"/><use href="#le" x="513.6" y="549.3"/><use href="#le" x="271.3" y="549.3"/><use href="#le" x="524.6" y="549.3"/><use href="#le" x="401.2" y="531.1"/><use href="#le" x="412.2" y="531.1"/><use href="#le" x="390.1" y="531.1"/><use href="#le" x="423.2" y="531.1"/><use href="#le" x="379.1" y="531.1"/><use href="#le" x="434.2" y="531.1"/><use href="#le" x="368.1" y="531.1"/><use href="#le" x="445.2" y="531.1"/><use href="#le" x="357.1" y="531.1"/><use href="#le" x="456.2" y="531.1"/><use href="#le" x="346.1" y="531.1"/><use href="#le" x="467.2" y="531.1"/><use href="#le" x="335.1" y="531.1"/><use href="#le" x="478.3" y="531.1"/><use href="#le" x="324.1" y="531.1"/><use href="#le" x="489.3" y="531.1"/><use href="#le" x="313.0" y="531.1"/><use href="#le" x="500.3" y="531.1"/><use href="#le" x="302.0" y="531.1"/><use href="#le" x="511.3" y="531.1"/><use href="#le" x="291.0" y="531.1"/><use href="#le" x="522.3" y="531.1"/><use href="#le" x="280.0" y="531.1"/><use href="#le" x="533.3" y="531.1"/><use href="#le" x="407.8" y="517.1"/><use href="#le" x="418.8" y="517.1"/><use href="#le" x="396.8" y="517.1"/><use href="#le" x="429.8" y="517.1"/><use href="#le" x="385.8" y="517.1"/><use href="#le" x="440.9" y="517.1"/><use href="#le" x="374.8" y="517.1"/><use href="#le" x="451.9" y="517.1"/><use href="#le" x="363.8" y="517.1"/><use href="#le" x="462.9" y="517.1"/><use href="#le" x="352.8" y="517.1"/><use href="#le" x="473.9" y="517.1"/><use href="#le" x="341.7" y="517.1"/><use href="#le" x="484.9" y="517.1"/><use href="#le" x="330.7" y="517.1"/><use href="#le" x="495.9" y="517.1"/><use href="#le" x="319.7" y="517.1"/><use href="#le" x="506.9" y="517.1"/><use href="#le" x="308.7" y="517.1"/><use href="#le" x="518.0" y="517.1"/><use href="#le" x="297.7" y="517.1"/><use href="#le" x="529.0" y="517.1"/><use href="#le" x="286.7" y="517.1"/><use href="#le" x="540.0" y="517.1"/><use href="#le" x="414.5" y="503.0"/><use href="#le" x="425.5" y="503.0"/><use href="#le" x="403.5" y="503.0"/><use href="#le" x="436.6" y="503.0"/><use href="#le" x="392.5" y="503.0"/><use href="#le" x="447.6" y="503.0"/><use href="#le" x="381.5" y="503.0"/><use href="#le" x="458.6" y="503.0"/><use href="#le" x="370.5" y="503.0"/><use href="#le" x="469.6" y="503.0"/><use href="#le" x="359.5" y="503.0"/><use href="#le" x="480.6" y="503.0"/><use href="#le" x="348.4" y="503.0"/><use href="#le" x="491.6" y="503.0"/><use href="#le" x="337.4" y="503.0"/><use href="#le" x="502.6" y="503.0"/><use href="#le" x="326.4" y="503.0"/><use href="#le" x="513.7" y="503.0"/><use href="#le" x="315.4" y="503.0"/><use href="#le" x="524.7" y="503.0"/><use href="#le" x="304.4" y="503.0"/><use href="#le" x="535.7" y="503.0"/><use href="#le" x="293.4" y="503.0"/><use href="#le" x="546.7" y="503.0"/><use href="#le" x="425.5" y="480.1"/><use href="#le" x="436.5" y="480.1"/><use href="#le" x="414.5" y="480.1"/><use href="#le" x="447.5" y="480.1"/><use href="#le" x="403.5" y="480.1"/><use href="#le" x="458.5" y="480.1"/><use href="#le" x="392.4" y="480.1"/><use href="#le" x="469.5" y="480.1"/><use href="#le" x="381.4" y="480.1"/><use href="#le" x="480.6" y="480.1"/><use href="#le" x="370.4" y="480.1"/><use href="#le" x="491.6" y="480.1"/><use href="#le" x="359.4" y="480.1"/><use href="#le" x="502.6" y="480.1"/><use href="#le" x="348.4" y="480.1"/><use href="#le" x="513.6" y="480.1"/><use href="#le" x="337.4" y="480.1"/><use href="#le" x="524.6" y="480.1"/><use href="#le" x="326.4" y="480.1"/><use href="#le" x="535.6" y="480.1"/><use href="#le" x="315.3" y="480.1"/><use href="#le" x="546.6" y="480.1"/><use href="#le" x="304.3" y="480.1"/><use href="#le" x="557.7" y="480.1"/><use href="#le" x="440.6" y="448.4"/><use href="#le" x="451.6" y="448.4"/><use href="#le" x="429.6" y="448.4"/><use href="#le" x="462.6" y="448.4"/><use href="#le" x="418.6" y="448.4"/><use href="#le" x="473.6" y="448.4"/><use href="#le" x="407.6" y="448.4"/><use href="#le" x="484.7" y="448.4"/><use href="#le" x="396.5" y="448.4"/><use href="#le" x="495.7" y="448.4"/><use href="#le" x="385.5" y="448.4"/><use href="#le" x="506.7" y="448.4"/><use href="#le" x="374.5" y="448.4"/><use href="#le" x="517.7" y="448.4"/><use href="#le" x="363.5" y="448.4"/><use href="#le" x="528.7" y="448.4"/><use href="#le" x="352.5" y="448.4"/><use href="#le" x="539.7" y="448.4"/><use href="#le" x="341.5" y="448.4"/><use href="#le" x="550.7" y="448.4"/><use href="#le" x="330.5" y="448.4"/><use href="#le" x="561.7" y="448.4"/><use href="#le" x="319.4" y="448.4"/><use href="#le" x="572.8" y="448.4"/><use href="#le" x="460.2" y="407.2"/><use href="#le" x="471.3" y="407.2"/><use href="#le" x="449.2" y="407.2"/><use href="#le" x="482.3" y="407.2"/><use href="#le" x="438.2" y="407.2"/><use href="#le" x="493.3" y="407.2"/><use href="#le" x="427.2" y="407.2"/><use href="#le" x="504.3" y="407.2"/><use href="#le" x="416.2" y="407.2"/><use href="#le" x="515.3" y="407.2"/><use href="#le" x="405.2" y="407.2"/><use href="#le" x="526.3" y="407.2"/><use href="#le" x="394.2" y="407.2"/><use href="#le" x="537.3" y="407.2"/><use href="#le" x="383.1" y="407.2"/><use href="#le" x="548.3" y="407.2"/><use href="#le" x="372.1" y="407.2"/><use href="#le" x="559.4" y="407.2"/><use href="#le" x="361.1" y="407.2"/><use href="#le" x="570.4" y="407.2"/><use href="#le" x="350.1" y="407.2"/><use href="#le" x="581.4" y="407.2"/><use href="#le" x="339.1" y="407.2"/><use href="#le" x="592.4" y="407.2"/><use href="#le" x="480.6" y="353.0"/><use href="#le" x="502.6" y="353.0"/><use href="#le" x="458.6" y="353.0"/><use href="#le" x="524.7" y="353.0"/><use href="#le" x="436.6" y="353.0"/><use href="#le" x="546.7" y="353.0"/><use href="#le" x="414.5" y="353.0"/><use href="#le" x="568.7" y="353.0"/><use href="#le" x="392.5" y="353.0"/><use href="#le" x="590.8" y="353.0"/><use href="#le" x="370.5" y="353.0"/><use href="#le" x="612.8" y="353.0"/><use href="#le" x="531.1" y="247.2"/><use href="#le" x="553.1" y="247.2"/><use href="#le" x="509.0" y="247.2"/><use href="#le" x="575.1" y="247.2"/><use href="#le" x="487.0" y="247.2"/><use href="#le" x="597.2" y="247.2"/><use href="#le" x="465.0" y="247.2"/><use href="#le" x="619.2" y="247.2"/><use href="#le" x="443.0" y="247.2"/><use href="#le" x="641.2" y="247.2"/><use href="#le" x="420.9" y="247.2"/><use href="#le" x="656.6" y="247.2"/><use href="#le" x="404.8" y="538.2"/><use href="#le" x="416.4" y="538.2"/><use href="#le" x="393.3" y="538.2"/><use href="#le" x="428.0" y="538.2"/><use href="#le" x="381.7" y="538.2"/><use href="#le" x="439.5" y="538.2"/><use href="#le" x="370.2" y="538.2"/><use href="#le" x="451.1" y="538.2"/><use href="#le" x="358.6" y="538.2"/><use href="#le" x="462.7" y="538.2"/><use href="#le" x="344.0" y="538.2"/><use href="#le" x="477.3" y="538.2"/><use href="#le" x="331.1" y="538.2"/><use href="#le" x="490.2" y="538.2"/><use href="#le" x="320.9" y="538.2"/><use href="#le" x="500.4" y="538.2"/><use href="#le" x="309.0" y="538.2"/><use href="#le" x="512.2" y="538.2"/><use href="#le" x="296.9" y="538.2"/><use href="#le" x="524.3" y="538.2"/><use href="#le" x="281.8" y="538.2"/><use href="#le" x="539.5" y="538.2"/><use href="#le" x="397.5" y="538.2"/><use href="#le" x="409.1" y="538.2"/><use href="#le" x="385.9" y="538.2"/><use href="#le" x="420.6" y="538.2"/><use href="#le" x="374.4" y="538.2"/><use href="#le" x="432.2" y="538.2"/><use href="#le" x="362.8" y="538.2"/><use href="#le" x="443.8" y="538.2"/><use href="#le" x="351.2" y="538.2"/><use href="#le" x="455.3" y="538.2"/><use href="#le" x="336.6" y="538.2"/><use href="#le" x="469.9" y="538.2"/><use href="#le" x="323.7" y="538.2"/><use href="#le" x="482.8" y="538.2"/><use href="#le" x="313.5" y="538.2"/><use href="#le" x="493.0" y="538.2"/><use href="#le" x="301.7" y="538.2"/><use href="#le" x="504.9" y="538.2"/><use href="#le" x="289.6" y="538.2"/><use href="#le" x="517.0" y="538.2"/><use href="#le" x="277.2" y="538.2"/><use href="#le" x="529.4" y="538.2"/><use href="#le" x="412.1" y="523.6"/><use href="#le" x="423.1" y="523.6"/><use href="#le" x="401.0" y="523.6"/><use href="#le" x="434.1" y="523.6"/><use href="#le" x="390.0" y="523.6"/><use href="#le" x="445.1" y="523.6"/><use href="#le" x="379.0" y="523.6"/><use href="#le" x="456.1" y="523.6"/><use href="#le" x="368.0" y="523.6"/><use href="#le" x="467.1" y="523.6"/><use href="#le" x="357.0" y="523.6"/><use href="#le" x="478.1" y="523.6"/><use href="#le" x="346.0" y="523.6"/><use href="#le" x="489.2" y="523.6"/><use href="#le" x="335.0" y="523.6"/><use href="#le" x="500.2" y="523.6"/><use href="#le" x="323.9" y="523.6"/><use href="#le" x="511.2" y="523.6"/><use href="#le" x="312.9" y="523.6"/><use href="#le" x="522.2" y="523.6"/><use href="#le" x="301.9" y="523.6"/><use href="#le" x="533.2" y="523.6"/><use href="#le" x="290.9" y="523.6"/><use href="#le" x="544.2" y="523.6"/><use href="#le" x="379.7" y="579.9"/><use href="#le" x="401.7" y="579.9"/><use href="#le" x="357.7" y="579.9"/><use href="#le" x="423.8" y="579.9"/><use href="#le" x="335.6" y="579.9"/><use href="#le" x="445.8" y="579.9"/><use href="#le" x="313.6" y="579.9"/><use href="#le" x="467.8" y="579.9"/><use href="#le" x="291.6" y="579.9"/><use href="#le" x="489.8" y="579.9"/><use href="#le" x="269.6" y="579.9"/><use href="#le" x="511.9" y="579.9"/><use href="#le" x="427.3" y="480.1"/><use href="#le" x="449.4" y="480.1"/><use href="#le" x="405.3" y="480.1"/><use href="#le" x="471.4" y="480.1"/><use href="#le" x="383.3" y="480.1"/><use href="#le" x="493.4" y="480.1"/><use href="#le" x="361.3" y="480.1"/><use href="#le" x="515.4" y="480.1"/><use href="#le" x="339.2" y="480.1"/><use href="#le" x="537.5" y="480.1"/><use href="#le" x="317.2" y="480.1"/><use href="#le" x="559.5" y="480.1"/><use href="#le" x="361.3" y="480.1"/><use href="#le" x="515.4" y="480.1"/><use href="#le" x="339.2" y="480.1"/><use href="#le" x="537.5" y="480.1"/><use href="#le" x="317.2" y="480.1"/><use href="#le" x="559.5" y="480.1"/><use href="#le" x="256.1" y="523.6"/><use href="#le" x="510.8" y="523.6"/><use href="#le" x="249.2" y="523.6"/><use href="#le" x="517.7" y="523.6"/><use href="#le" x="242.4" y="523.6"/><use href="#le" x="524.6" y="523.6"/><use href="#le" x="235.5" y="523.6"/><use href="#le" x="531.5" y="523.6"/><use href="#le" x="228.6" y="523.6"/><use href="#le" x="538.4" y="523.6"/><use href="#le" x="221.7" y="523.6"/><use href="#le" x="545.2" y="523.6"/><use href="#le" x="214.8" y="523.6"/><use href="#le" x="552.1" y="523.6"/><use href="#le" x="207.9" y="523.6"/><use href="#le" x="559.0" y="523.6"/><use href="#le" x="201.1" y="523.6"/><use href="#le" x="565.9" y="523.6"/><use href="#le" x="194.2" y="523.6"/><use href="#le" x="572.8" y="523.6"/><use href="#le" x="187.3" y="523.6"/><use href="#le" x="579.7" y="523.6"/><use href="#le" x="180.4" y="523.6"/><use href="#le" x="586.5" y="523.6"/><use href="#le" x="173.5" y="523.6"/><use href="#le" x="593.4" y="523.6"/><use href="#le" x="166.6" y="523.6"/><use href="#le" x="600.3" y="523.6"/><use href="#le" x="156.3" y="523.6"/><use href="#le" x="610.6" y="523.6"/><use href="#le" x="142.5" y="523.6"/><use href="#le" x="624.4" y="523.6"/><use href="#le" x="640.0" y="784.4"/><use href="#le" x="636.6" y="791.6"/></g>
<g fill="#a6d854"><use href="#re" x="560.3" y="286.4"/><use href="#re" x="547.2" y="314.5"/><use href="#re" x="539.0" y="330.2"/><use href="#re" x="533.2" y="343.0"/><use href="#re" x="526.0" y="356.5"/><use href="#re" x="518.6" y="372.8"/><use href="#re" x="510.7" y="389.5"/><use href="#re" x="498.0" y="410.0"/><use href="#re" x="490.0" y="428.3"/><use href="#re" x="483.0" y="440.4"/><use href="#re" x="476.0" y="455.0"/><use href="#re" x="466.4" y="470.0"/><use href="#re" x="455.6" y="486.4"/><use href="#re" x="444.0" y="500.0"/><use href="#re" x="431.6" y="514.6"/></g>
<g fill="#e5c494"><use href="#se" x="333.0" y="449.7"/><use href="#se" x="352.0" y="449.7"/><use href="#se" x="363.0" y="449.7"/><use href="#se" x="369.0" y="449.7"/><use href="#se" x="374.0" y="449.7"/><use href="#se" x="385.0" y="449.7"/><use href="#se" x="396.0" y="449.7"/><use href="#se" x="407.0" y="449.7"/><use href="#se" x="439.0" y="449.7"/><use href="#se" x="462.0" y="449.7"/><use href="#se" x="505.0" y="449.7"/><use href="#se" x="518.0" y="449.7"/><use href="#se" x="528.0" y="449.7"/><use href="#se" x="545.0" y="449.7"/><use href="#se" x="550.0" y="449.7"/><use href="#se" x="561.0" y="449.7"/><use href="#se" x="572.0" y="449.7"/><use href="#se" x="579.0" y="449.7"/><use href="#se" x="615.0" y="449.7"/><use href="#se" x="516.3" y="362.0"/><use href="#se" x="534.7" y="362.0"/><use href="#se" x="492.2" y="362.0"/><use href="#se" x="558.8" y="362.0"/><use href="#se" x="462.0" y="362.0"/><use href="#se" x="589.0" y="362.0"/><use href="#se" x="416.7" y="362.0"/><use href="#se" x="634.3" y="362.0"/><use href="#se" x="527.1" y="339.4"/><use href="#se" x="545.5" y="339.4"/><use href="#se" x="503.0" y="339.4"/><use href="#se" x="569.6" y="339.4"/><use href="#se" x="472.8" y="339.4"/><use href="#se" x="599.8" y="339.4"/><use href="#se" x="427.5" y="339.4"/><use href="#se" x="645.1" y="339.4"/><use href="#se" x="540.6" y="311.1"/><use href="#se" x="559.0" y="311.1"/><use href="#se" x="516.5" y="311.1"/><use href="#se" x="583.1" y="311.1"/><use href="#se" x="486.3" y="311.1"/><use href="#se" x="613.3" y="311.1"/><use href="#se" x="441.0" y="311.1"/><use href="#se" x="656.6" y="311.1"/><use href="#se" x="575.0" y="238.9"/><use href="#se" x="593.4" y="238.9"/><use href="#se" x="550.9" y="238.9"/><use href="#se" x="617.5" y="238.9"/><use href="#se" x="520.7" y="238.9"/><use href="#se" x="647.7" y="238.9"/><use href="#se" x="475.4" y="238.9"/><use href="#se" x="656.6" y="238.9"/></g>
<g fill="#b3b3b3"><use href="#pe" x="425.7" y="542.4"/><use href="#pe" x="453.2" y="542.4"/><use href="#pe" x="435.4" y="522.0"/><use href="#pe" x="462.9" y="522.0"/><use href="#pe" x="443.9" y="504.1"/><use href="#pe" x="471.5" y="504.1"/><use href="#pe" x="452.0" y="487.2"/><use href="#pe" x="479.5" y="487.2"/><use href="#pe" x="459.4" y="471.7"/><use href="#pe" x="486.9" y="471.7"/><use href="#pe" x="466.3" y="457.3"/><use href="#pe" x="493.8" y="457.3"/><use href="#pe" x="473.0" y="443.2"/><use href="#pe" x="500.5" y="443.2"/><use href="#pe" x="479.2" y="430.1"/><use href="#pe" x="506.8" y="430.1"/><use href="#pe" x="485.1" y="417.9"/><use href="#pe" x="512.6" y="417.9"/><use href="#pe" x="490.6" y="406.3"/><use href="#pe" x="518.1" y="406.3"/><use href="#pe" x="495.8" y="395.4"/><use href="#pe" x="523.3" y="395.4"/><use href="#pe" x="500.9" y="384.7"/><use href="#pe" x="528.5" y="384.7"/><use href="#pe" x="505.8" y="374.5"/><use href="#pe" x="533.3" y="374.5"/><use href="#pe" x="510.4" y="364.8"/><use href="#pe" x="537.9" y="364.8"/><use href="#pe" x="514.9" y="355.3"/><use href="#pe" x="542.5" y="355.3"/><use href="#pe" x="519.4" y="346.0"/><use href="#pe" x="546.9" y="346.0"/><use href="#pe" x="523.7" y="336.9"/><use href="#pe" x="551.3" y="336.9"/><use href="#pe" x="528.0" y="327.9"/><use href="#pe" x="555.5" y="327.9"/><use href="#pe" x="532.1" y="319.2"/><use href="#pe" x="559.7" y="319.2"/><use href="#pe" x="536.2" y="310.7"/><use href="#pe" x="563.7" y="310.7"/><use href="#pe" x="540.2" y="302.4"/><use href="#pe" x="567.7" y="302.4"/><use href="#pe" x="544.0" y="294.3"/><use href="#pe" x="571.6" y="294.3"/><use href="#pe" x="547.8" y="286.5"/><use href="#pe" x="575.3" y="286.5"/><use href="#pe" x="551.5" y="278.8"/><use href="#pe" x="579.0" y="278.8"/><use href="#pe" x="555.0" y="271.3"/><use href="#pe" x="582.6" y="271.3"/><use href="#pe" x="558.6" y="263.9"/><use href="#pe" x="586.1" y="263.9"/><use href="#pe" x="562.1" y="256.5"/><use href="#pe" x="589.6" y="256.5"/><use href="#pe" x="565.5" y="249.3"/><use href="#pe" x="593.0" y="249.3"/><use href="#pe" x="568.9" y="242.3"/><use href="#pe" x="596.4" y="242.3"/><use href="#pe" x="572.7" y="234.3"/><use href="#pe" x="600.2" y="234.3"/><use href="#pe" x="578.2" y="222.8"/><use href="#pe" x="605.7" y="222.8"/><use href="#pe" x="585.8" y="206.8"/><use href="#pe" x="613.3" y="206.8"/><use href="#pe" x="597.7" y="181.9"/><use href="#pe" x="625.2" y="181.9"/><use href="#pe" x="611.1" y="153.9"/><use href="#pe" x="638.6" y="153.9"/><use href="#pe" x="398.1" y="542.4"/><use href="#pe" x="480.7" y="542.4"/><use href="#pe" x="407.9" y="522.0"/><use href="#pe" x="490.5" y="522.0"/><use href="#pe" x="416.4" y="504.1"/><use href="#pe" x="499.0" y="504.1"/><use href="#pe" x="424.4" y="487.2"/><use href="#pe" x="507.0" y="487.2"/><use href="#pe" x="431.9" y="471.7"/><use href="#pe" x="514.5" y="471.7"/><use href="#pe" x="438.7" y="457.3"/><use href="#pe" x="521.3" y="457.3"/><use href="#pe" x="445.4" y="443.2"/><use href="#pe" x="528.0" y="443.2"/><use href="#pe" x="451.7" y="430.1"/><use href="#pe" x="534.3" y="430.1"/><use href="#pe" x="457.5" y="417.9"/><use href="#pe" x="540.1" y="417.9"/><use href="#pe" x="463.1" y="406.3"/><use href="#pe" x="545.7" y="406.3"/><use href="#pe" x="468.3" y="395.4"/><use href="#pe" x="550.9" y="395.4"/><use href="#pe" x="473.4" y="384.7"/><use href="#pe" x="556.0" y="384.7"/><use href="#pe" x="478.2" y="374.5"/><use href="#pe" x="560.8" y="374.5"/><use href="#pe" x="482.8" y="364.8"/><use href="#pe" x="565.5" y="364.8"/><use href="#pe" x="487.4" y="355.3"/><use href="#pe" x="570.0" y="355.3"/><use href="#pe" x="491.8" y="346.0"/><use href="#pe" x="574.4" y="346.0"/><use href="#pe" x="496.2" y="336.9"/><use href="#pe" x="578.8" y="336.9"/><use href="#pe" x="500.5" y="327.9"/><use href="#pe" x="583.1" y="327.9"/><use href="#pe" x="504.6" y="319.2"/><use href="#pe" x="587.2" y="319.2"/><use href="#pe" x="508.7" y="310.7"/><use href="#pe" x="591.3" y="310.7"/><use href="#pe" x="512.6" y="302.4"/><use href="#pe" x="595.2" y="302.4"/><use href="#pe" x="516.5" y="294.3"/><use href="#pe" x="599.1" y="294.3"/><use href="#pe" x="520.3" y="286.5"/><use href="#pe" x="602.9" y="286.5"/><use href="#pe" x="523.9" y="278.8"/><use href="#pe" x="606.5" y="278.8"/><use href="#pe" x="527.5" y="271.3"/><use href="#pe" x="610.1" y="271.3"/><use href="#pe" x="531.0" y="263.9"/><use href="#pe" x="613.6" y="263.9"/><use href="#pe" x="534.5" y="256.5"/><use href="#pe" x="617.1" y="256.5"/><use href="#pe" x="538.0" y="249.3"/><use href="#pe" x="620.6" y="249.3"/><use href="#pe" x="541.3" y="242.3"/><use href="#pe" x="623.9" y="242.3"/><use href="#pe" x="545.1" y="234.3"/><use href="#pe" x="627.8" y="234.3"/><use href="#pe" x="550.6" y="222.8"/><use href="#pe" x="633.2" y="222.8"/><use href="#pe" x="558.3" y="206.8"/><use href="#pe" x="640.9" y="206.8"/><use href="#pe" x="577.5" y="166.4"/><use href="#pe" x="656.6" y="166.4"/><use href="#pe" x="370.6" y="542.4"/><use href="#pe" x="508.3" y="542.4"/><use href="#pe" x="380.3" y="522.0"/><use href="#pe" x="518.0" y="522.0"/><use href="#pe" x="388.9" y="504.1"/><use href="#pe" x="526.5" y="504.1"/><use href="#pe" x="396.9" y="487.2"/><use href="#pe" x="534.6" y="487.2"/><use href="#pe" x="404.3" y="471.7"/><use href="#pe" x="542.0" y="471.7"/><use href="#pe" x="411.2" y="457.3"/><use href="#pe" x="548.9" y="457.3"/><use href="#pe" x="417.9" y="443.2"/><use href="#pe" x="555.6" y="443.2"/><use href="#pe" x="424.2" y="430.1"/><use href="#pe" x="561.8" y="430.1"/><use href="#pe" x="430.0" y="417.9"/><use href="#pe" x="567.7" y="417.9"/><use href="#pe" x="435.5" y="406.3"/><use href="#pe" x="573.2" y="406.3"/><use href="#pe" x="440.7" y="395.4"/><use href="#pe" x="578.4" y="395.4"/><use href="#pe" x="445.9" y="384.7"/><use href="#pe" x="583.5" y="384.7"/><use href="#pe" x="450.7" y="374.5"/><use href="#pe" x="588.4" y="374.5"/><use href="#pe" x="455.3" y="364.8"/><use href="#pe" x="593.0" y="364.8"/><use href="#pe" x="459.9" y="355.3"/><use href="#pe" x="597.5" y="355.3"/><use href="#pe" x="464.3" y="346.0"/><use href="#pe" x="602.0" y="346.0"/><use href="#pe" x="468.7" y="336.9"/><use href="#pe" x="606.3" y="336.9"/><use href="#pe" x="472.9" y="327.9"/><use href="#pe" x="610.6" y="327.9"/><use href="#pe" x="477.1" y="319.2"/><use href="#pe" x="614.8" y="319.2"/><use href="#pe" x="481.1" y="310.7"/><use href="#pe" x="618.8" y="310.7"/><use href="#pe" x="485.1" y="302.4"/><use href="#pe" x="622.8" y="302.4"/><use href="#pe" x="489.0" y="294.3"/><use href="#pe" x="626.6" y="294.3"/><use href="#pe" x="492.7" y="286.5"/><use href="#pe" x="630.4" y="286.5"/><use href="#pe" x="496.4" y="278.8"/><use href="#pe" x="634.1" y="278.8"/><use href="#pe" x="500.0" y="271.3"/><use href="#pe" x="637.6" y="271.3"/><use href="#pe" x="503.5" y="263.9"/><use href="#pe" x="641.2" y="263.9"/><use href="#pe" x="507.0" y="256.5"/><use href="#pe" x="644.7" y="256.5"/><use href="#pe" x="510.4" y="249.3"/><use href="#pe" x="648.1" y="249.3"/><use href="#pe" x="513.8" y="242.3"/><use href="#pe" x="651.5" y="242.3"/><use href="#pe" x="517.6" y="234.3"/><use href="#pe" x="655.3" y="234.3"/><use href="#pe" x="523.1" y="222.8"/><use href="#pe" x="656.6" y="222.8"/><use href="#pe" x="539.0" y="189.4"/><use href="#pe" x="656.6" y="189.4"/><use href="#pe" x="343.1" y="542.4"/><use href="#pe" x="535.8" y="542.4"/><use href="#pe" x="352.8" y="522.0"/><use href="#pe" x="545.5" y="522.0"/><use href="#pe" x="361.3" y="504.1"/><use href="#pe" x="554.1" y="504.1"/><use href="#pe" x="369.4" y="487.2"/><use href="#pe" x="562.1" y="487.2"/><use href="#pe" x="376.8" y="471.7"/><use href="#pe" x="569.5" y="471.7"/><use href="#pe" x="383.7" y="457.3"/><use href="#pe" x="576.4" y="457.3"/><use href="#pe" x="390.4" y="443.2"/><use href="#pe" x="583.1" y="443.2"/><use href="#pe" x="396.6" y="430.1"/><use href="#pe" x="589.4" y="430.1"/><use href="#pe" x="402.5" y="417.9"/><use href="#pe" x="595.2" y="417.9"/><use href="#pe" x="408.0" y="406.3"/><use href="#pe" x="600.7" y="406.3"/><use href="#pe" x="413.2" y="395.4"/><use href="#pe" x="605.9" y="395.4"/><use href="#pe" x="418.3" y="384.7"/><use href="#pe" x="611.1" y="384.7"/><use href="#pe" x="423.2" y="374.5"/><use href="#pe" x="615.9" y="374.5"/><use href="#pe" x="427.8" y="364.8"/><use href="#pe" x="620.5" y="364.8"/><use href="#pe" x="432.3" y="355.3"/><use href="#pe" x="625.1" y="355.3"/><use href="#pe" x="436.8" y="346.0"/><use href="#pe" x="629.5" y="346.0"/><use href="#pe" x="441.1" y="336.9"/><use href="#pe" x="633.9" y="336.9"/><use href="#pe" x="445.4" y="327.9"/><use href="#pe" x="638.1" y="327.9"/><use href="#pe" x="449.5" y="319.2"/><use href="#pe" x="642.3" y="319.2"/><use href="#pe" x="453.6" y="310.7"/><use href="#pe" x="646.3" y="310.7"/><use href="#pe" x="457.6" y="302.4"/><use href="#pe" x="650.3" y="302.4"/><use href="#pe" x="461.4" y="294.3"/><use href="#pe" x="654.2" y="294.3"/><use href="#pe" x="465.2" y="286.5"/><use href="#pe" x="656.6" y="286.5"/><use href="#pe" x="468.8" y="278.8"/><use href="#pe" x="656.6" y="278.8"/><use href="#pe" x="472.4" y="271.3"/><use href="#pe" x="656.6" y="271.3"/><use href="#pe" x="476.0" y="263.9"/><use href="#pe" x="656.6" y="263.9"/><use href="#pe" x="479.5" y="256.5"/><use href="#pe" x="656.6" y="256.5"/><use href="#pe" x="482.9" y="249.3"/><use href="#pe" x="656.6" y="249.3"/><use href="#pe" x="486.3" y="242.3"/><use href="#pe" x="656.6" y="242.3"/><use href="#pe" x="493.6" y="226.9"/><use href="#pe" x="656.6" y="226.9"/><use href="#pe" x="315.5" y="542.4"/><use href="#pe" x="563.3" y="542.4"/><use href="#pe" x="325.3" y="522.0"/><use href="#pe" x="573.1" y="522.0"/><use href="#pe" x="333.8" y="504.1"/><use href="#pe" x="581.6" y="504.1"/><use href="#pe" x="341.8" y="487.2"/><use href="#pe" x="589.7" y="487.2"/><use href="#pe" x="349.3" y="471.7"/><use href="#pe" x="597.1" y="471.7"/><use href="#pe" x="356.1" y="457.3"/><use href="#pe" x="603.9" y="457.3"/><use href="#pe" x="362.8" y="443.2"/><use href="#pe" x="610.6" y="443.2"/><use href="#pe" x="369.1" y="430.1"/><use href="#pe" x="616.9" y="430.1"/><use href="#pe" x="374.9" y="417.9"/><use href="#pe" x="622.7" y="417.9"/><use href="#pe" x="380.5" y="406.3"/><use href="#pe" x="628.3" y="406.3"/><use href="#pe" x="385.7" y="395.4"/><use href="#pe" x="633.5" y="395.4"/><use href="#pe" x="390.8" y="384.7"/><use href="#pe" x="638.6" y="384.7"/><use href="#pe" x="395.6" y="374.5"/><use href="#pe" x="643.4" y="374.5"/><use href="#pe" x="400.2" y="364.8"/><use href="#pe" x="648.1" y="364.8"/><use href="#pe" x="404.8" y="355.3"/><use href="#pe" x="652.6" y="355.3"/><use href="#pe" x="409.2" y="346.0"/><use href="#pe" x="656.6" y="346.0"/><use href="#pe" x="413.6" y="336.9"/><use href="#pe" x="656.6" y="336.9"/><use href="#pe" x="417.9" y="327.9"/><use href="#pe" x="656.6" y="327.9"/><use href="#pe" x="422.0" y="319.2"/><use href="#pe" x="656.6" y="319.2"/><use href="#pe" x="426.1" y="310.7"/><use href="#pe" x="656.6" y="310.7"/><use href="#pe" x="430.0" y="302.4"/><use href="#pe" x="656.6" y="302.4"/><use href="#pe" x="433.9" y="294.3"/><use href="#pe" x="656.6" y="294.3"/><use href="#pe" x="437.6" y="286.5"/><use href="#pe" x="656.6" y="286.5"/><use href="#pe" x="443.2" y="274.9"/><use href="#pe" x="656.6" y="274.9"/><use href="#pe" x="288.0" y="542.4"/><use href="#pe" x="590.9" y="542.4"/><use href="#pe" x="297.7" y="522.0"/><use href="#pe" x="600.6" y="522.0"/><use href="#pe" x="306.3" y="504.1"/><use href="#pe" x="609.1" y="504.1"/><use href="#pe" x="314.3" y="487.2"/><use href="#pe" x="617.2" y="487.2"/><use href="#pe" x="321.7" y="471.7"/><use href="#pe" x="624.6" y="471.7"/><use href="#pe" x="328.6" y="457.3"/><use href="#pe" x="631.5" y="457.3"/><use href="#pe" x="335.3" y="443.2"/><use href="#pe" x="638.2" y="443.2"/><use href="#pe" x="341.6" y="430.1"/><use href="#pe" x="644.4" y="430.1"/><use href="#pe" x="347.4" y="417.9"/><use href="#pe" x="650.3" y="417.9"/><use href="#pe" x="352.9" y="406.3"/><use href="#pe" x="655.8" y="406.3"/><use href="#pe" x="358.1" y="395.4"/><use href="#pe" x="656.6" y="395.4"/><use href="#pe" x="363.2" y="384.7"/><use href="#pe" x="656.6" y="384.7"/><use href="#pe" x="368.1" y="374.5"/><use href="#pe" x="656.6" y="374.5"/><use href="#pe" x="372.7" y="364.8"/><use href="#pe" x="656.6" y="364.8"/><use href="#pe" x="377.2" y="355.3"/><use href="#pe" x="656.6" y="355.3"/><use href="#pe" x="381.7" y="346.0"/><use href="#pe" x="656.6" y="346.0"/><use href="#pe" x="386.1" y="336.9"/><use href="#pe" x="656.6" y="336.9"/><use href="#pe" x="392.5" y="323.4"/><use href="#pe" x="656.6" y="323.4"/></g>
<g fill="#66c2a5"><use href="#te" x="466.5" y="392.1"/><use href="#te" x="494.1" y="392.1"/><use href="#te" x="476.3" y="371.8"/><use href="#te" x="503.8" y="371.8"/><use href="#te" x="485.9" y="351.6"/><use href="#te" x="513.4" y="351.6"/><use href="#te" x="494.7" y="333.2"/><use href="#te" x="522.2" y="333.2"/><use href="#te" x="502.8" y="316.2"/><use href="#te" x="530.3" y="316.2"/><use href="#te" x="510.2" y="300.6"/><use href="#te" x="537.8" y="300.6"/><use href="#te" x="517.2" y="286.0"/><use href="#te" x="544.7" y="286.0"/><use href="#te" x="523.7" y="272.3"/><use href="#te" x="551.3" y="272.3"/><use href="#te" x="529.9" y="259.4"/><use href="#te" x="557.4" y="259.4"/><use href="#te" x="535.9" y="246.7"/><use href="#te" x="563.5" y="246.7"/><use href="#te" x="541.9" y="234.2"/><use href="#te" x="569.4" y="234.2"/><use href="#te" x="547.7" y="222.0"/><use href="#te" x="575.3" y="222.0"/><use href="#te" x="553.4" y="210.1"/><use href="#te" x="580.9" y="210.1"/><use href="#te" x="558.9" y="198.5"/><use href="#te" x="586.4" y="198.5"/><use href="#te" x="564.2" y="187.4"/><use href="#te" x="591.8" y="187.4"/><use href="#te" x="569.6" y="176.3"/><use href="#te" x="597.1" y="176.3"/><use href="#te" x="574.7" y="165.5"/><use href="#te" x="602.2" y="165.5"/><use href="#te" x="579.7" y="155.0"/><use href="#te" x="607.3" y="155.0"/><use href="#te" x="584.8" y="144.3"/><use href="#te" x="612.3" y="144.3"/><use href="#te" x="589.7" y="134.1"/><use href="#te" x="617.2" y="134.1"/><use href="#te" x="605.1" y="101.8"/><use href="#te" x="632.6" y="101.8"/><use href="#te" x="448.7" y="371.8"/><use href="#te" x="531.3" y="371.8"/><use href="#te" x="458.4" y="351.6"/><use href="#te" x="541.0" y="351.6"/><use href="#te" x="467.1" y="333.2"/><use href="#te" x="549.7" y="333.2"/><use href="#te" x="475.2" y="316.2"/><use href="#te" x="557.8" y="316.2"/><use href="#te" x="482.7" y="300.6"/><use href="#te" x="565.3" y="300.6"/><use href="#te" x="489.7" y="286.0"/><use href="#te" x="572.3" y="286.0"/><use href="#te" x="496.2" y="272.3"/><use href="#te" x="578.8" y="272.3"/><use href="#te" x="502.3" y="259.4"/><use href="#te" x="584.9" y="259.4"/><use href="#te" x="508.4" y="246.7"/><use href="#te" x="591.0" y="246.7"/><use href="#te" x="514.4" y="234.2"/><use href="#te" x="597.0" y="234.2"/><use href="#te" x="520.2" y="222.0"/><use href="#te" x="602.8" y="222.0"/><use href="#te" x="525.9" y="210.1"/><use href="#te" x="608.5" y="210.1"/><use href="#te" x="531.4" y="198.5"/><use href="#te" x="614.0" y="198.5"/><use href="#te" x="536.7" y="187.4"/><use href="#te" x="619.3" y="187.4"/><use href="#te" x="542.0" y="176.3"/><use href="#te" x="624.6" y="176.3"/><use href="#te" x="547.1" y="165.5"/><use href="#te" x="629.7" y="165.5"/><use href="#te" x="552.2" y="155.0"/><use href="#te" x="634.8" y="155.0"/><use href="#te" x="557.3" y="144.3"/><use href="#te" x="639.9" y="144.3"/><use href="#te" x="562.1" y="134.1"/><use href="#te" x="644.7" y="134.1"/><use href="#te" x="567.0" y="124.0"/><use href="#te" x="649.6" y="124.0"/><use href="#te" x="579.5" y="97.7"/><use href="#te" x="656.6" y="97.7"/><use href="#te" x="447.7" y="316.2"/><use href="#te" x="585.4" y="316.2"/><use href="#te" x="455.2" y="300.6"/><use href="#te" x="592.8" y="300.6"/><use href="#te" x="462.1" y="286.0"/><use href="#te" x="599.8" y="286.0"/><use href="#te" x="468.7" y="272.3"/><use href="#te" x="606.3" y="272.3"/><use href="#te" x="474.8" y="259.4"/><use href="#te" x="612.5" y="259.4"/><use href="#te" x="480.9" y="246.7"/><use href="#te" x="618.6" y="246.7"/><use href="#te" x="486.8" y="234.2"/><use href="#te" x="624.5" y="234.2"/><use href="#te" x="492.7" y="222.0"/><use href="#te" x="630.3" y="222.0"/><use href="#te" x="498.3" y="210.1"/><use href="#te" x="636.0" y="210.1"/><use href="#te" x="503.8" y="198.5"/><use href="#te" x="641.5" y="198.5"/><use href="#te" x="509.2" y="187.4"/><use href="#te" x="646.8" y="187.4"/><use href="#te" x="514.5" y="176.3"/><use href="#te" x="652.2" y="176.3"/><use href="#te" x="519.6" y="165.5"/><use href="#te" x="656.6" y="165.5"/><use href="#te" x="524.6" y="155.0"/><use href="#te" x="656.6" y="155.0"/><use href="#te" x="529.7" y="144.3"/><use href="#te" x="656.6" y="144.3"/><use href="#te" x="534.6" y="134.1"/><use href="#te" x="656.6" y="134.1"/><use href="#te" x="539.4" y="124.0"/><use href="#te" x="656.6" y="124.0"/><use href="#te" x="544.2" y="113.9"/><use href="#te" x="656.6" y="113.9"/><use href="#te" x="556.6" y="88.0"/><use href="#te" x="656.6" y="88.0"/><use href="#te" x="441.1" y="272.3"/><use href="#te" x="633.9" y="272.3"/><use href="#te" x="447.3" y="259.4"/><use href="#te" x="640.0" y="259.4"/><use href="#te" x="453.3" y="246.7"/><use href="#te" x="646.1" y="246.7"/><use href="#te" x="459.3" y="234.2"/><use href="#te" x="652.1" y="234.2"/><use href="#te" x="465.1" y="222.0"/><use href="#te" x="656.6" y="222.0"/><use href="#te" x="470.8" y="210.1"/><use href="#te" x="656.6" y="210.1"/><use href="#te" x="476.3" y="198.5"/><use href="#te" x="656.6" y="198.5"/><use href="#te" x="481.6" y="187.4"/><use href="#te" x="656.6" y="187.4"/><use href="#te" x="486.9" y="176.3"/><use href="#te" x="656.6" y="176.3"/><use href="#te" x="492.1" y="165.5"/><use href="#te" x="656.6" y="165.5"/><use href="#te" x="497.1" y="155.0"/><use href="#te" x="656.6" y="155.0"/><use href="#te" x="502.2" y="144.3"/><use href="#te" x="656.6" y="144.3"/><use href="#te" x="507.1" y="134.1"/><use href="#te" x="656.6" y="134.1"/><use href="#te" x="511.9" y="124.0"/><use href="#te" x="656.6" y="124.0"/><use href="#te" x="516.7" y="113.9"/><use href="#te" x="656.6" y="113.9"/><use href="#te" x="521.4" y="104.0"/><use href="#te" x="656.6" y="104.0"/><use href="#te" x="531.1" y="83.7"/><use href="#te" x="656.6" y="83.7"/><use href="#te" x="443.3" y="210.1"/><use href="#te" x="656.6" y="210.1"/><use href="#te" x="448.8" y="198.5"/><use href="#te" x="656.6" y="198.5"/><use href="#te" x="454.1" y="187.4"/><use href="#te" x="656.6" y="187.4"/><use href="#te" x="462.0" y="170.8"/><use href="#te" x="656.6" y="170.8"/><use href="#te" x="472.2" y="149.4"/><use href="#te" x="656.6" y="149.4"/><use href="#te" x="482.1" y="128.6"/><use href="#te" x="656.6" y="128.6"/><use href="#te" x="491.7" y="108.6"/><use href="#te" x="656.6" y="108.6"/><use href="#te" x="506.2" y="78.2"/><use href="#te" x="656.6" y="78.2"/><use href="#te" x="444.7" y="149.4"/><use href="#te" x="656.6" y="149.4"/><use href="#te" x="454.6" y="128.6"/><use href="#te" x="656.6" y="128.6"/><use href="#te" x="466.8" y="103.2"/><use href="#te" x="656.6" y="103.2"/><use href="#te" x="480.6" y="74.1"/><use href="#te" x="656.6" y="74.1"/><use href="#te" x="306.9" y="726.7"/><use href="#te" x="334.4" y="726.7"/><use href="#te" x="317.2" y="705.2"/><use href="#te" x="344.7" y="705.2"/><use href="#te" x="325.9" y="686.8"/><use href="#te" x="353.5" y="686.8"/><use href="#te" x="333.7" y="670.5"/><use href="#te" x="361.3" y="670.5"/><use href="#te" x="340.7" y="655.8"/><use href="#te" x="368.3" y="655.8"/><use href="#te" x="347.1" y="642.4"/><use href="#te" x="374.7" y="642.4"/><use href="#te" x="353.1" y="629.9"/><use href="#te" x="380.6" y="629.9"/><use href="#te" x="358.6" y="618.3"/><use href="#te" x="386.2" y="618.3"/><use href="#te" x="363.9" y="607.3"/><use href="#te" x="391.4" y="607.3"/><use href="#te" x="368.9" y="596.8"/><use href="#te" x="396.4" y="596.8"/><use href="#te" x="373.7" y="586.8"/><use href="#te" x="401.2" y="586.8"/><use href="#te" x="378.3" y="577.2"/><use href="#te" x="405.8" y="577.2"/><use href="#te" x="382.7" y="567.9"/><use href="#te" x="410.2" y="567.9"/><use href="#te" x="287.2" y="710.2"/><use href="#te" x="369.8" y="710.2"/><use href="#te" x="296.3" y="691.2"/><use href="#te" x="378.9" y="691.2"/><use href="#te" x="304.3" y="674.4"/><use href="#te" x="386.9" y="674.4"/><use href="#te" x="311.5" y="659.4"/><use href="#te" x="394.1" y="659.4"/><use href="#te" x="318.1" y="645.6"/><use href="#te" x="400.7" y="645.6"/><use href="#te" x="324.1" y="633.0"/><use href="#te" x="406.7" y="633.0"/><use href="#te" x="329.7" y="621.1"/><use href="#te" x="412.3" y="621.1"/><use href="#te" x="335.1" y="610.0"/><use href="#te" x="417.7" y="610.0"/><use href="#te" x="340.1" y="599.4"/><use href="#te" x="422.7" y="599.4"/><use href="#te" x="344.9" y="589.3"/><use href="#te" x="427.5" y="589.3"/><use href="#te" x="349.6" y="579.5"/><use href="#te" x="432.2" y="579.5"/><use href="#te" x="353.5" y="571.4"/><use href="#te" x="436.1" y="571.4"/><use href="#te" x="270.9" y="686.8"/><use href="#te" x="408.5" y="686.8"/><use href="#te" x="278.7" y="670.5"/><use href="#te" x="416.3" y="670.5"/><use href="#te" x="285.7" y="655.8"/><use href="#te" x="423.3" y="655.8"/><use href="#te" x="292.1" y="642.4"/><use href="#te" x="429.7" y="642.4"/><use href="#te" x="298.0" y="629.9"/><use href="#te" x="435.7" y="629.9"/><use href="#te" x="303.6" y="618.3"/><use href="#te" x="441.2" y="618.3"/><use href="#te" x="308.8" y="607.3"/><use href="#te" x="446.5" y="607.3"/><use href="#te" x="313.8" y="596.8"/><use href="#te" x="451.5" y="596.8"/><use href="#te" x="318.6" y="586.8"/><use href="#te" x="456.3" y="586.8"/><use href="#te" x="323.2" y="577.2"/><use href="#te" x="460.9" y="577.2"/><use href="#te" x="330.6" y="561.7"/><use href="#te" x="468.2" y="561.7"/><use href="#te" x="251.1" y="670.5"/><use href="#te" x="443.9" y="670.5"/><use href="#te" x="258.1" y="655.8"/><use href="#te" x="450.9" y="655.8"/><use href="#te" x="264.5" y="642.4"/><use href="#te" x="457.3" y="642.4"/><use href="#te" x="270.5" y="629.9"/><use href="#te" x="463.2" y="629.9"/><use href="#te" x="276.0" y="618.3"/><use href="#te" x="468.8" y="618.3"/><use href="#te" x="281.3" y="607.3"/><use href="#te" x="474.0" y="607.3"/><use href="#te" x="286.3" y="596.8"/><use href="#te" x="479.0" y="596.8"/><use href="#te" x="291.0" y="586.8"/><use href="#te" x="483.8" y="586.8"/><use href="#te" x="295.6" y="577.2"/><use href="#te" x="488.4" y="577.2"/><use href="#te" x="303.0" y="561.7"/><use href="#te" x="495.8" y="561.7"/><use href="#te" x="238.5" y="639.2"/><use href="#te" x="486.3" y="639.2"/><use href="#te" x="244.4" y="626.9"/><use href="#te" x="492.2" y="626.9"/><use href="#te" x="249.8" y="615.5"/><use href="#te" x="497.6" y="615.5"/><use href="#te" x="255.0" y="604.6"/><use href="#te" x="502.8" y="604.6"/><use href="#te" x="260.0" y="594.3"/><use href="#te" x="507.8" y="594.3"/><use href="#te" x="264.7" y="584.4"/><use href="#te" x="512.5" y="584.4"/><use href="#te" x="269.2" y="574.8"/><use href="#te" x="517.0" y="574.8"/><use href="#te" x="275.5" y="561.7"/><use href="#te" x="523.3" y="561.7"/><use href="#te" x="452.2" y="471.7"/><use href="#te" x="507.3" y="471.7"/><use href="#te" x="459.6" y="456.2"/><use href="#te" x="514.7" y="456.2"/><use href="#te" x="466.4" y="442.0"/><use href="#te" x="521.5" y="442.0"/><use href="#te" x="472.9" y="428.5"/><use href="#te" x="527.9" y="428.5"/><use href="#te" x="479.0" y="415.6"/><use href="#te" x="534.1" y="415.6"/><use href="#te" x="484.8" y="403.4"/><use href="#te" x="539.9" y="403.4"/><use href="#te" x="490.4" y="391.7"/><use href="#te" x="545.5" y="391.7"/><use href="#te" x="495.7" y="380.6"/><use href="#te" x="550.8" y="380.6"/><use href="#te" x="500.9" y="369.7"/><use href="#te" x="556.0" y="369.7"/><use href="#te" x="505.8" y="359.4"/><use href="#te" x="560.9" y="359.4"/><use href="#te" x="510.6" y="349.4"/><use href="#te" x="565.6" y="349.4"/><use href="#te" x="515.2" y="339.7"/><use href="#te" x="570.3" y="339.7"/><use href="#te" x="519.8" y="330.2"/><use href="#te" x="574.8" y="330.2"/><use href="#te" x="524.1" y="321.1"/><use href="#te" x="579.2" y="321.1"/><use href="#te" x="528.4" y="312.1"/><use href="#te" x="583.5" y="312.1"/><use href="#te" x="532.6" y="303.4"/><use href="#te" x="587.6" y="303.4"/><use href="#te" x="536.6" y="294.9"/><use href="#te" x="591.7" y="294.9"/><use href="#te" x="540.6" y="286.5"/><use href="#te" x="595.7" y="286.5"/><use href="#te" x="544.5" y="278.4"/><use href="#te" x="599.5" y="278.4"/><use href="#te" x="548.3" y="270.4"/><use href="#te" x="603.3" y="270.4"/><use href="#te" x="552.0" y="262.6"/><use href="#te" x="607.1" y="262.6"/><use href="#te" x="555.7" y="254.9"/><use href="#te" x="610.8" y="254.9"/><use href="#te" x="559.3" y="247.3"/><use href="#te" x="614.4" y="247.3"/><use href="#te" x="562.9" y="239.8"/><use href="#te" x="618.0" y="239.8"/><use href="#te" x="566.4" y="232.5"/><use href="#te" x="621.5" y="232.5"/><use href="#te" x="569.8" y="225.3"/><use href="#te" x="624.9" y="225.3"/><use href="#te" x="573.3" y="218.1"/><use href="#te" x="628.3" y="218.1"/><use href="#te" x="576.6" y="211.0"/><use href="#te" x="631.7" y="211.0"/><use href="#te" x="579.9" y="204.1"/><use href="#te" x="635.0" y="204.1"/><use href="#te" x="583.2" y="197.2"/><use href="#te" x="638.3" y="197.2"/><use href="#te" x="588.1" y="187.0"/><use href="#te" x="643.2" y="187.0"/><use href="#te" x="492.7" y="471.7"/><use href="#te" x="547.8" y="471.7"/><use href="#te" x="500.1" y="456.2"/><use href="#te" x="555.2" y="456.2"/><use href="#te" x="506.9" y="442.0"/><use href="#te" x="562.0" y="442.0"/><use href="#te" x="513.4" y="428.5"/><use href="#te" x="568.4" y="428.5"/><use href="#te" x="519.5" y="415.6"/><use href="#te" x="574.6" y="415.6"/><use href="#te" x="525.3" y="403.4"/><use href="#te" x="580.4" y="403.4"/><use href="#te" x="530.9" y="391.7"/><use href="#te" x="586.0" y="391.7"/><use href="#te" x="536.2" y="380.6"/><use href="#te" x="591.3" y="380.6"/><use href="#te" x="541.4" y="369.7"/><use href="#te" x="596.5" y="369.7"/><use href="#te" x="546.3" y="359.4"/><use href="#te" x="601.4" y="359.4"/><use href="#te" x="551.1" y="349.4"/><use href="#te" x="606.1" y="349.4"/><use href="#te" x="555.7" y="339.7"/><use href="#te" x="610.8" y="339.7"/><use href="#te" x="560.3" y="330.2"/><use href="#te" x="615.3" y="330.2"/><use href="#te" x="564.6" y="321.1"/><use href="#te" x="619.7" y="321.1"/><use href="#te" x="568.9" y="312.1"/><use href="#te" x="623.9" y="312.1"/><use href="#te" x="573.1" y="303.4"/><use href="#te" x="628.1" y="303.4"/><use href="#te" x="577.1" y="294.9"/><use href="#te" x="632.2" y="294.9"/><use href="#te" x="581.1" y="286.5"/><use href="#te" x="636.2" y="286.5"/><use href="#te" x="585.0" y="278.4"/><use href="#te" x="640.0" y="278.4"/><use href="#te" x="588.8" y="270.4"/><use href="#te" x="643.8" y="270.4"/><use href="#te" x="592.5" y="262.6"/><use href="#te" x="647.6" y="262.6"/><use href="#te" x="596.2" y="254.9"/><use href="#te" x="651.3" y="254.9"/><use href="#te" x="599.8" y="247.3"/><use href="#te" x="654.9" y="247.3"/><use href="#te" x="603.4" y="239.8"/><use href="#te" x="656.6" y="239.8"/><use href="#te" x="606.9" y="232.5"/><use href="#te" x="656.6" y="232.5"/><use href="#te" x="610.3" y="225.3"/><use href="#te" x="656.6" y="225.3"/><use href="#te" x="545.5" y="471.7"/><use href="#te" x="600.6" y="471.7"/><use href="#te" x="552.9" y="456.2"/><use href="#te" x="607.9" y="456.2"/><use href="#te" x="559.7" y="442.0"/><use href="#te" x="614.7" y="442.0"/><use href="#te" x="566.1" y="428.5"/><use href="#te" x="621.2" y="428.5"/><use href="#te" x="572.3" y="415.6"/><use href="#te" x="627.3" y="415.6"/><use href="#te" x="578.1" y="403.4"/><use href="#te" x="633.2" y="403.4"/><use href="#te" x="583.7" y="391.7"/><use href="#te" x="638.7" y="391.7"/><use href="#te" x="589.0" y="380.6"/><use href="#te" x="644.0" y="380.6"/><use href="#te" x="594.1" y="369.7"/><use href="#te" x="649.2" y="369.7"/><use href="#te" x="599.1" y="359.4"/><use href="#te" x="654.2" y="359.4"/><use href="#te" x="603.8" y="349.4"/><use href="#te" x="656.6" y="349.4"/><use href="#te" x="608.5" y="339.7"/><use href="#te" x="656.6" y="339.7"/><use href="#te" x="613.0" y="330.2"/><use href="#te" x="656.6" y="330.2"/><use href="#te" x="617.4" y="321.1"/><use href="#te" x="656.6" y="321.1"/><use href="#te" x="397.2" y="471.7"/><use href="#te" x="562.4" y="471.7"/><use href="#te" x="404.5" y="456.2"/><use href="#te" x="569.8" y="456.2"/><use href="#te" x="411.3" y="442.0"/><use href="#te" x="576.6" y="442.0"/><use href="#te" x="417.8" y="428.5"/><use href="#te" x="583.0" y="428.5"/><use href="#te" x="423.9" y="415.6"/><use href="#te" x="589.1" y="415.6"/><use href="#te" x="429.8" y="403.4"/><use href="#te" x="595.0" y="403.4"/><use href="#te" x="435.3" y="391.7"/><use href="#te" x="600.5" y="391.7"/><use href="#te" x="440.7" y="380.6"/><use href="#te" x="605.9" y="380.6"/><use href="#te" x="445.8" y="369.7"/><use href="#te" x="611.0" y="369.7"/><use href="#te" x="450.8" y="359.4"/><use href="#te" x="616.0" y="359.4"/><use href="#te" x="455.5" y="349.4"/><use href="#te" x="620.7" y="349.4"/><use href="#te" x="460.2" y="339.7"/><use href="#te" x="625.4" y="339.7"/><use href="#te" x="464.7" y="330.2"/><use href="#te" x="629.9" y="330.2"/><use href="#te" x="469.0" y="321.1"/><use href="#te" x="634.3" y="321.1"/><use href="#te" x="473.3" y="312.1"/><use href="#te" x="638.5" y="312.1"/><use href="#te" x="477.5" y="303.4"/><use href="#te" x="642.7" y="303.4"/><use href="#te" x="481.6" y="294.9"/><use href="#te" x="646.8" y="294.9"/><use href="#te" x="485.5" y="286.5"/><use href="#te" x="650.7" y="286.5"/><use href="#te" x="489.4" y="278.4"/><use href="#te" x="654.6" y="278.4"/><use href="#te" x="493.2" y="270.4"/><use href="#te" x="656.6" y="270.4"/><use href="#te" x="496.9" y="262.6"/><use href="#te" x="656.6" y="262.6"/><use href="#te" x="500.6" y="254.9"/><use href="#te" x="656.6" y="254.9"/><use href="#te" x="504.2" y="247.3"/><use href="#te" x="656.6" y="247.3"/><use href="#te" x="437.7" y="471.7"/><use href="#te" x="602.9" y="471.7"/><use href="#te" x="445.0" y="456.2"/><use href="#te" x="610.2" y="456.2"/><use href="#te" x="451.8" y="442.0"/><use href="#te" x="617.0" y="442.0"/><use href="#te" x="458.3" y="428.5"/><use href="#te" x="623.5" y="428.5"/><use href="#te" x="464.4" y="415.6"/><use href="#te" x="629.6" y="415.6"/><use href="#te" x="470.3" y="403.4"/><use href="#te" x="635.5" y="403.4"/><use href="#te" x="475.8" y="391.7"/><use href="#te" x="641.0" y="391.7"/><use href="#te" x="481.1" y="380.6"/><use href="#te" x="646.4" y="380.6"/><use href="#te" x="486.3" y="369.7"/><use href="#te" x="651.5" y="369.7"/><use href="#te" x="491.3" y="359.4"/><use href="#te" x="656.5" y="359.4"/><use href="#te" x="496.0" y="349.4"/><use href="#te" x="656.6" y="349.4"/><use href="#te" x="500.7" y="339.7"/><use href="#te" x="656.6" y="339.7"/><use href="#te" x="505.2" y="330.2"/><use href="#te" x="656.6" y="330.2"/><use href="#te" x="509.5" y="321.1"/><use href="#te" x="656.6" y="321.1"/><use href="#te" x="513.8" y="312.1"/><use href="#te" x="656.6" y="312.1"/><use href="#te" x="518.0" y="303.4"/><use href="#te" x="656.6" y="303.4"/><use href="#te" x="522.0" y="294.9"/><use href="#te" x="656.6" y="294.9"/><use href="#te" x="342.1" y="471.7"/><use href="#te" x="617.4" y="471.7"/><use href="#te" x="349.5" y="456.2"/><use href="#te" x="624.8" y="456.2"/><use href="#te" x="356.3" y="442.0"/><use href="#te" x="631.6" y="442.0"/><use href="#te" x="362.7" y="428.5"/><use href="#te" x="638.1" y="428.5"/><use href="#te" x="368.9" y="415.6"/><use href="#te" x="644.2" y="415.6"/><use href="#te" x="374.7" y="403.4"/><use href="#te" x="650.0" y="403.4"/><use href="#te" x="380.3" y="391.7"/><use href="#te" x="655.6" y="391.7"/><use href="#te" x="385.6" y="380.6"/><use href="#te" x="656.6" y="380.6"/><use href="#te" x="390.8" y="369.7"/><use href="#te" x="656.6" y="369.7"/><use href="#te" x="395.7" y="359.4"/><use href="#te" x="656.6" y="359.4"/><use href="#te" x="400.4" y="349.4"/><use href="#te" x="656.6" y="349.4"/></g>
<g fill="#fc8d62"><use href="#he" x="399.3" y="476.2"/><use href="#he" x="412.9" y="476.2"/><use href="#he" x="390.6" y="476.2"/><use href="#he" x="421.6" y="476.2"/><use href="#he" x="385.3" y="476.2"/><use href="#he" x="426.9" y="476.2"/><use href="#he" x="408.5" y="457.0"/><use href="#he" x="422.1" y="457.0"/><use href="#he" x="399.8" y="457.0"/><use href="#he" x="430.8" y="457.0"/><use href="#he" x="394.5" y="457.0"/><use href="#he" x="436.1" y="457.0"/><use href="#he" x="416.4" y="440.4"/><use href="#he" x="430.0" y="440.4"/><use href="#he" x="407.7" y="440.4"/><use href="#he" x="438.7" y="440.4"/><use href="#he" x="402.4" y="440.4"/><use href="#he" x="444.0" y="440.4"/><use href="#he" x="426.4" y="419.4"/><use href="#he" x="440.0" y="419.4"/><use href="#he" x="417.7" y="419.4"/><use href="#he" x="448.7" y="419.4"/><use href="#he" x="412.4" y="419.4"/><use href="#he" x="454.0" y="419.4"/><use href="#he" x="437.5" y="396.2"/><use href="#he" x="451.1" y="396.2"/><use href="#he" x="428.8" y="396.2"/><use href="#he" x="459.8" y="396.2"/><use href="#he" x="423.5" y="396.2"/><use href="#he" x="465.1" y="396.2"/><use href="#he" x="446.7" y="377.0"/><use href="#he" x="460.3" y="377.0"/><use href="#he" x="438.0" y="377.0"/><use href="#he" x="469.0" y="377.0"/><use href="#he" x="432.7" y="377.0"/><use href="#he" x="474.3" y="377.0"/><use href="#he" x="454.5" y="360.4"/><use href="#he" x="468.1" y="360.4"/><use href="#he" x="445.8" y="360.4"/><use href="#he" x="476.8" y="360.4"/><use href="#he" x="440.5" y="360.4"/><use href="#he" x="482.1" y="360.4"/><use href="#he" x="462.7" y="343.3"/><use href="#he" x="476.3" y="343.3"/><use href="#he" x="454.0" y="343.3"/><use href="#he" x="485.0" y="343.3"/><use href="#he" x="448.7" y="343.3"/><use href="#he" x="490.3" y="343.3"/><use href="#he" x="471.5" y="325.0"/><use href="#he" x="485.1" y="325.0"/><use href="#he" x="462.8" y="325.0"/><use href="#he" x="493.8" y="325.0"/><use href="#he" x="457.5" y="325.0"/><use href="#he" x="499.1" y="325.0"/><use href="#he" x="480.4" y="306.2"/><use href="#he" x="494.0" y="306.2"/><use href="#he" x="471.7" y="306.2"/><use href="#he" x="502.7" y="306.2"/><use href="#he" x="466.4" y="306.2"/><use href="#he" x="508.0" y="306.2"/><use href="#he" x="488.9" y="288.4"/><use href="#he" x="502.5" y="288.4"/><use href="#he" x="480.2" y="288.4"/><use href="#he" x="511.2" y="288.4"/><use href="#he" x="474.9" y="288.4"/><use href="#he" x="516.5" y="288.4"/><use href="#he" x="498.0" y="269.5"/><use href="#he" x="511.6" y="269.5"/><use href="#he" x="489.3" y="269.5"/><use href="#he" x="520.3" y="269.5"/><use href="#he" x="484.0" y="269.5"/><use href="#he" x="525.6" y="269.5"/><use href="#he" x="508.6" y="247.2"/><use href="#he" x="522.2" y="247.2"/><use href="#he" x="499.9" y="247.2"/><use href="#he" x="530.9" y="247.2"/><use href="#he" x="494.6" y="247.2"/><use href="#he" x="536.2" y="247.2"/><use href="#he" x="514.3" y="217.0"/><use href="#he" x="545.3" y="217.0"/><use href="#he" x="509.0" y="217.0"/><use href="#he" x="550.6" y="217.0"/></g>
<g fill="#8da0cb"><use href="#oe" x="419.0" y="449.7"/><use href="#oe" x="428.0" y="449.7"/><use href="#oe" x="444.8" y="449.7"/><use href="#oe" x="452.7" y="449.7"/><use href="#oe" x="456.7" y="449.7"/><use href="#oe" x="468.0" y="449.7"/><use href="#oe" x="475.5" y="449.7"/><use href="#oe" x="485.0" y="449.7"/><use href="#oe" x="491.8" y="449.7"/><use href="#oe" x="497.0" y="449.7"/><use href="#oe" x="511.0" y="449.7"/><use href="#oe" x="538.0" y="449.7"/></g>
<path d="M73 28V1017.5H685" stroke="#1c1c1c" stroke-width="1.5" fill="none" stroke-linejoin="miter"/>
<path d="M149.4 1017.5v6.5M276.2 1017.5v6.5M403.0 1017.5v6.5M529.8 1017.5v6.5M656.6 1017.5v6.5M73 911.6h-6.5M73 778.7h-6.5M73 645.9h-6.5M73 513.0h-6.5M73 380.1h-6.5M73 247.2h-6.5M73 114.4h-6.5" stroke="#1c1c1c" stroke-width="1.45" fill="none"/>
<path d="M83.1 1017.5v3.8M98.9 1017.5v3.8M111.2 1017.5v3.8M121.3 1017.5v3.8M129.8 1017.5v3.8M137.1 1017.5v3.8M143.6 1017.5v3.8M187.6 1017.5v3.8M209.9 1017.5v3.8M225.7 1017.5v3.8M238.0 1017.5v3.8M248.1 1017.5v3.8M256.6 1017.5v3.8M263.9 1017.5v3.8M270.4 1017.5v3.8M314.4 1017.5v3.8M336.7 1017.5v3.8M352.5 1017.5v3.8M364.8 1017.5v3.8M374.9 1017.5v3.8M383.4 1017.5v3.8M390.7 1017.5v3.8M397.2 1017.5v3.8M441.2 1017.5v3.8M463.5 1017.5v3.8M479.3 1017.5v3.8M491.6 1017.5v3.8M501.7 1017.5v3.8M510.2 1017.5v3.8M517.5 1017.5v3.8M524.0 1017.5v3.8M568.0 1017.5v3.8M590.3 1017.5v3.8M606.1 1017.5v3.8M618.4 1017.5v3.8M628.5 1017.5v3.8M637.0 1017.5v3.8M644.3 1017.5v3.8M650.8 1017.5v3.8M73 1004.5h-3.8M73 981.1h-3.8M73 964.5h-3.8M73 951.6h-3.8M73 941.1h-3.8M73 932.2h-3.8M73 924.5h-3.8M73 917.7h-3.8M73 871.6h-3.8M73 848.2h-3.8M73 831.6h-3.8M73 818.7h-3.8M73 808.2h-3.8M73 799.3h-3.8M73 791.6h-3.8M73 784.8h-3.8M73 738.7h-3.8M73 715.3h-3.8M73 698.7h-3.8M73 685.9h-3.8M73 675.3h-3.8M73 666.4h-3.8M73 658.7h-3.8M73 651.9h-3.8M73 605.9h-3.8M73 582.5h-3.8M73 565.9h-3.8M73 553.0h-3.8M73 542.5h-3.8M73 533.6h-3.8M73 525.9h-3.8M73 519.1h-3.8M73 473.0h-3.8M73 449.6h-3.8M73 433.0h-3.8M73 420.1h-3.8M73 409.6h-3.8M73 400.7h-3.8M73 393.0h-3.8M73 386.2h-3.8M73 340.1h-3.8M73 316.7h-3.8M73 300.1h-3.8M73 287.2h-3.8M73 276.7h-3.8M73 267.8h-3.8M73 260.1h-3.8M73 253.3h-3.8M73 207.3h-3.8M73 183.9h-3.8M73 167.3h-3.8M73 154.4h-3.8M73 143.9h-3.8M73 135.0h-3.8M73 127.3h-3.8M73 120.5h-3.8M73 74.4h-3.8M73 51.0h-3.8M73 34.4h-3.8" stroke="#1c1c1c" stroke-width="1.05" fill="none"/>
<g opacity="0.999" fill="#000">
<text x="28.8" y="919.0" font-size="17.8" textLength="23.6" lengthAdjust="spacingAndGlyphs">10</text>
<text x="52.0" y="912.0" font-size="12.4" textLength="7.6" lengthAdjust="spacingAndGlyphs">1</text>
<text x="28.8" y="786.1" font-size="17.8" textLength="23.6" lengthAdjust="spacingAndGlyphs">10</text>
<text x="52.0" y="779.1" font-size="12.4" textLength="7.6" lengthAdjust="spacingAndGlyphs">2</text>
<text x="28.8" y="653.3" font-size="17.8" textLength="23.6" lengthAdjust="spacingAndGlyphs">10</text>
<text x="52.0" y="646.3" font-size="12.4" textLength="7.6" lengthAdjust="spacingAndGlyphs">3</text>
<text x="28.8" y="520.4" font-size="17.8" textLength="23.6" lengthAdjust="spacingAndGlyphs">10</text>
<text x="52.0" y="513.4" font-size="12.4" textLength="7.6" lengthAdjust="spacingAndGlyphs">4</text>
<text x="28.8" y="387.5" font-size="17.8" textLength="23.6" lengthAdjust="spacingAndGlyphs">10</text>
<text x="52.0" y="380.5" font-size="12.4" textLength="7.6" lengthAdjust="spacingAndGlyphs">5</text>
<text x="28.8" y="254.7" font-size="17.8" textLength="23.6" lengthAdjust="spacingAndGlyphs">10</text>
<text x="52.0" y="247.7" font-size="12.4" textLength="7.6" lengthAdjust="spacingAndGlyphs">6</text>
<text x="28.8" y="121.8" font-size="17.8" textLength="23.6" lengthAdjust="spacingAndGlyphs">10</text>
<text x="52.0" y="114.8" font-size="12.4" textLength="7.6" lengthAdjust="spacingAndGlyphs">7</text>
<text x="128.0" y="1043.7" font-size="17.8" textLength="23.6" lengthAdjust="spacingAndGlyphs">10</text>
<text x="151.2" y="1036.7" font-size="12.4" textLength="19.6" lengthAdjust="spacingAndGlyphs">−4</text>
<text x="254.8" y="1043.7" font-size="17.8" textLength="23.6" lengthAdjust="spacingAndGlyphs">10</text>
<text x="278.0" y="1036.7" font-size="12.4" textLength="19.6" lengthAdjust="spacingAndGlyphs">−3</text>
<text x="381.6" y="1043.7" font-size="17.8" textLength="23.6" lengthAdjust="spacingAndGlyphs">10</text>
<text x="404.8" y="1036.7" font-size="12.4" textLength="19.6" lengthAdjust="spacingAndGlyphs">−2</text>
<text x="508.4" y="1043.7" font-size="17.8" textLength="23.6" lengthAdjust="spacingAndGlyphs">10</text>
<text x="531.6" y="1036.7" font-size="12.4" textLength="19.6" lengthAdjust="spacingAndGlyphs">−1</text>
<text x="640.9" y="1043.7" font-size="17.8" textLength="23.6" lengthAdjust="spacingAndGlyphs">10</text>
<text x="664.1" y="1036.7" font-size="12.4" textLength="7.6" lengthAdjust="spacingAndGlyphs">0</text>
<text x="378.3" y="1067" font-size="17.8" text-anchor="middle">x</text>
<g transform="translate(16.8,568) rotate(-90)"><text x="0" y="0" font-size="17.8" textLength="88" lengthAdjust="spacingAndGlyphs">Q<tspan font-size="12.4" dy="-6.5">2</tspan><tspan dy="6.5"> (GeV</tspan><tspan font-size="12.4" dy="-6.5">2</tspan><tspan dy="6.5">)</tspan></text></g>
<text x="265.9" y="18.9" font-size="21.8" textLength="225.3" lengthAdjust="spacingAndGlyphs">Kinematic coverage</text>
<rect x="78.8" y="35.3" width="284.5" height="228.3" rx="2.5" fill="#fff" fill-opacity="0.8" stroke="#cccccc" stroke-width="1"/>
<use href="#c" transform="translate(96.8,45.5) scale(1)" fill="#66c2a5"/>
<text x="120.4" y="50.2" font-size="13" textLength="104.4" lengthAdjust="spacingAndGlyphs">Fixed-target DIS</text>
<use href="#v" transform="translate(96.8,64.3) scale(1)" fill="#fc8d62"/>
<text x="120.4" y="69.0" font-size="13" textLength="74.1" lengthAdjust="spacingAndGlyphs">Collider DIS</text>
<use href="#u" transform="translate(96.8,83.1) scale(1)" fill="#8da0cb"/>
<text x="120.4" y="87.8" font-size="13" textLength="100.3" lengthAdjust="spacingAndGlyphs">Fixed-target DY</text>
<use href="#l" transform="translate(96.8,101.9) scale(1)" fill="#e78ac3"/>
<text x="120.4" y="106.6" font-size="13" textLength="209.5" lengthAdjust="spacingAndGlyphs">Collider gauge boson production</text>
<use href="#r" transform="translate(96.8,120.7) scale(1)" fill="#a6d854"/>
<text x="120.4" y="125.4" font-size="13" textLength="237.0" lengthAdjust="spacingAndGlyphs">Collider gauge boson production+jet</text>
<use href="#c" transform="translate(96.8,139.5) scale(1)" fill="#ffd92f"/>
<text x="120.4" y="144.2" font-size="13" textLength="159.9" lengthAdjust="spacingAndGlyphs">Z transverse momentum</text>
<use href="#s" transform="translate(96.8,158.3) scale(1)" fill="#e5c494"/>
<text x="120.4" y="163.0" font-size="13" textLength="167.5" lengthAdjust="spacingAndGlyphs">Top-quark pair production</text>
<use href="#p" transform="translate(96.8,177.1) scale(1)" fill="#b3b3b3"/>
<text x="120.4" y="181.8" font-size="13" textLength="194.3" lengthAdjust="spacingAndGlyphs">Single-inclusive jet production</text>
<use href="#t" transform="translate(96.8,195.9) scale(1)" fill="#66c2a5" stroke="#66c2a5" stroke-width="1.1" stroke-linejoin="miter"/>
<text x="120.4" y="200.6" font-size="13" textLength="107.9" lengthAdjust="spacingAndGlyphs">Di-jet production</text>
<use href="#h" transform="translate(96.8,214.7) scale(1)" fill="#fc8d62"/>
<text x="120.4" y="219.4" font-size="13" textLength="161.1" lengthAdjust="spacingAndGlyphs">Direct photon production</text>
<use href="#o" transform="translate(96.8,233.5) scale(1)" fill="#8da0cb"/>
<text x="120.4" y="238.2" font-size="13" textLength="179.7" lengthAdjust="spacingAndGlyphs">Single top-quark production</text>
<rect x="93.1" y="248.6" width="7.4" height="7.4" fill="none" stroke="#000" stroke-width="1"/>
<text x="120.4" y="257.0" font-size="13" textLength="190.8" lengthAdjust="spacingAndGlyphs">Black edge: new in NNPDF4.0</text>
</g>
</svg></body></html>
